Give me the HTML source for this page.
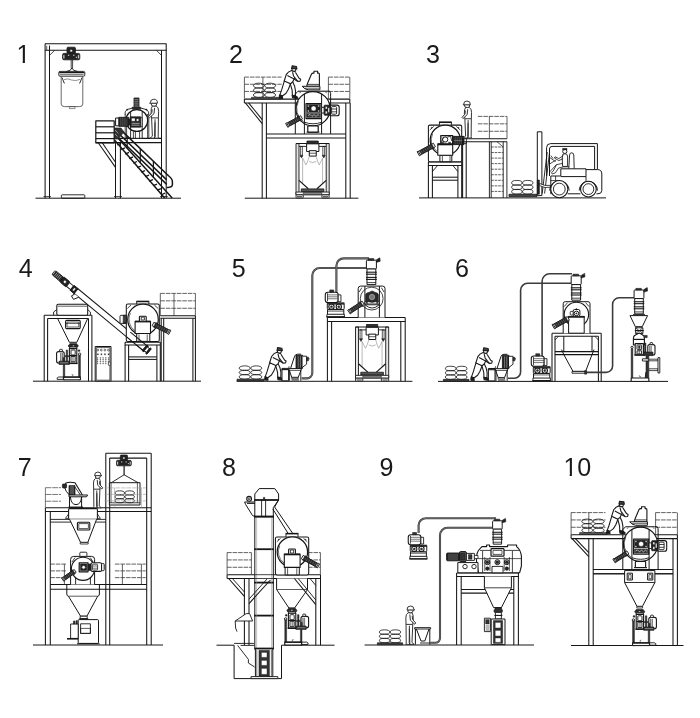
<!DOCTYPE html>
<html lang="en"><head><meta charset="utf-8"><title>Process layouts 1-10</title>
<style>html,body{margin:0;padding:0;background:#fff}body{width:700px;height:718px;overflow:hidden}svg{display:block}.n{font-family:"Liberation Sans",sans-serif;font-weight:400}svg{will-change:transform}</style>
</head><body>
<svg width="700" height="718" viewBox="0 0 700 718" stroke-linecap="butt" stroke-linejoin="round">
<g id="d1">
<clipPath id="c1"><path d="M15.40,43.12 H24.91 V64.20 H22.71 V60.69 H15.40 Z"/></clipPath>
<text class="n" x="16.40" y="63.20" font-size="25.1" fill="#1a1a1a" clip-path="url(#c1)">1</text>
<line x1="35.50" y1="198.20" x2="181.00" y2="198.20" fill="none" stroke="#161616" stroke-width="1"/>
<line x1="45.00" y1="43.70" x2="166.40" y2="43.70" fill="none" stroke="#161616" stroke-width="1.05"/>
<line x1="45.00" y1="50.30" x2="166.40" y2="50.30" fill="none" stroke="#161616" stroke-width="1.05"/>
<line x1="45.10" y1="43.70" x2="45.10" y2="198.20" fill="none" stroke="#161616" stroke-width="1.05"/>
<line x1="49.50" y1="45.60" x2="49.50" y2="198.20" fill="none" stroke="#161616" stroke-width="1.05"/>
<line x1="161.50" y1="50.30" x2="161.50" y2="198.20" fill="none" stroke="#161616" stroke-width="1.05"/>
<line x1="166.20" y1="43.70" x2="166.20" y2="198.20" fill="none" stroke="#161616" stroke-width="1.05"/>
<line x1="46.70" y1="45.80" x2="46.70" y2="50.30" fill="none" stroke="#161616" stroke-width="0.7"/>
<path d="M49.50,55.40 L54.60,50.30" fill="none" stroke="#161616" stroke-width="0.8"/>
<path d="M161.50,55.40 L156.40,50.30" fill="none" stroke="#161616" stroke-width="0.8"/>
<line x1="43.50" y1="196.60" x2="51.00" y2="196.60" fill="none" stroke="#161616" stroke-width="0.8"/>
<line x1="160.00" y1="196.60" x2="167.80" y2="196.60" fill="none" stroke="#161616" stroke-width="0.8"/>
<rect x="61.40" y="194.80" width="23.40" height="3.40" rx="0.8" fill="none" stroke="#161616" stroke-width="0.9"/>
<g transform="translate(71.20,47.20) scale(1)">
<rect x="-4.20" y="0.00" width="8.40" height="6.40" rx="1" fill="#222" stroke="#161616" stroke-width="0.8"/>
<rect x="-8.60" y="6.20" width="17.20" height="6.40" rx="1.4" fill="#222" stroke="#161616" stroke-width="0.8"/>
<rect x="-8.00" y="7.60" width="1.40" height="3.80" fill="#fff" stroke="#161616" stroke-width="0.4"/>
<rect x="6.60" y="7.60" width="1.40" height="3.80" fill="#fff" stroke="#161616" stroke-width="0.4"/>
<circle cx="0.00" cy="3.60" r="1.30" fill="#fff" stroke="#161616" stroke-width="0.5"/>
<circle cx="-2.60" cy="8.00" r="0.80" fill="#fff" stroke="#161616" stroke-width="0.3"/>
<circle cx="2.60" cy="8.00" r="0.80" fill="#fff" stroke="#161616" stroke-width="0.3"/>
<circle cx="5.20" cy="10.00" r="0.80" fill="#fff" stroke="#161616" stroke-width="0.3"/>
</g>
<path d="M71.2,59.8 L71.2,68.5 M72.6,59.8 L72.6,68.5" fill="none" stroke="#161616" stroke-width="0.8"/>
<path d="M71.9,68 Q71,71 66.5,71.4 M71.9,68 Q72.8,71 77.5,71.4" fill="none" stroke="#161616" stroke-width="0.9"/>
<rect x="58.80" y="71.40" width="26.00" height="4.80" rx="1.2" fill="none" stroke="#161616" stroke-width="0.9"/>
<line x1="59.20" y1="72.60" x2="84.40" y2="72.60" fill="none" stroke="#161616" stroke-width="1.3"/>
<line x1="60.00" y1="74.60" x2="83.60" y2="74.60" fill="none" stroke="#161616" stroke-width="0.6"/>
<path d="M61.2,76.4 L61.2,104 Q61.4,106.6 64.5,106.6 L79.5,106.6 Q82.8,106.6 82.8,104 L82.8,76.4" fill="none" stroke="#444" stroke-width="0.8"/>
<path d="M62,77.5 L64.4,83.5 M82,77.5 L79.6,83.5" fill="none" stroke="#161616" stroke-width="0.9"/>
<path d="M64,79.6 Q68,78 71.5,80 Q75.5,81.4 80,79.4" fill="none" stroke="#444" stroke-width="0.6"/>
<rect x="69.40" y="106.60" width="5.60" height="2.00" fill="none" stroke="#444" stroke-width="0.6"/>
<rect x="95.80" y="120.90" width="18.40" height="21.90" fill="none" stroke="#161616" stroke-width="1.2"/>
<line x1="95.80" y1="126.80" x2="114.20" y2="126.80" fill="none" stroke="#161616" stroke-width="1.2"/>
<line x1="95.80" y1="132.80" x2="114.20" y2="132.80" fill="none" stroke="#161616" stroke-width="1.2"/>
<line x1="95.80" y1="138.60" x2="114.20" y2="138.60" fill="none" stroke="#161616" stroke-width="1.2"/>
<line x1="114.00" y1="138.40" x2="161.50" y2="138.40" fill="none" stroke="#161616" stroke-width="1.1"/>
<line x1="95.80" y1="142.60" x2="161.50" y2="142.60" fill="none" stroke="#161616" stroke-width="1.1"/>
<line x1="115.50" y1="143.00" x2="115.50" y2="198.20" fill="none" stroke="#161616" stroke-width="1.05"/>
<line x1="120.40" y1="143.00" x2="120.40" y2="198.20" fill="none" stroke="#161616" stroke-width="1.05"/>
<line x1="114.00" y1="196.60" x2="122.00" y2="196.60" fill="none" stroke="#161616" stroke-width="0.8"/>
<path d="M98.40,143.00 L115.50,167.40" fill="none" stroke="#161616" stroke-width="1.05"/>
<path d="M102.40,143.00 L115.50,162.20" fill="none" stroke="#161616" stroke-width="1.05"/>
<path d="M125.2,114 L125.2,138.3 M126.6,118 L126.6,138.3 M147.6,114 L147.6,138.3 M148.8,114 L148.8,138.3" fill="none" stroke="#161616" stroke-width="0.8"/>
<rect x="130.60" y="130.40" width="11.60" height="7.90" fill="#fff" stroke="#161616" stroke-width="0.9"/>
<line x1="133.40" y1="131.40" x2="133.40" y2="138.30" fill="none" stroke="#161616" stroke-width="0.8"/>
<line x1="135.40" y1="131.40" x2="135.40" y2="138.30" fill="none" stroke="#161616" stroke-width="0.8"/>
<line x1="139.60" y1="131.40" x2="139.60" y2="138.30" fill="none" stroke="#161616" stroke-width="0.8"/>
<circle cx="136.80" cy="120.50" r="10.90" fill="#fff" stroke="#161616" stroke-width="1.2"/>
<path d="M130.6,111.6 L130.6,130 M142.2,111.6 L142.2,130" fill="none" stroke="#161616" stroke-width="0.9"/>
<path d="M125.2,114.6 Q124.4,110.6 128.4,109.2 L132,108.2 L141.4,108.2 L145,109.2 Q149.4,110.6 148.6,114.6" fill="none" stroke="#161616" stroke-width="0.9"/>
<circle cx="127.20" cy="109.60" r="0.70" fill="#222" stroke="#161616" stroke-width="0.4"/>
<circle cx="146.40" cy="109.60" r="0.70" fill="#222" stroke="#161616" stroke-width="0.4"/>
<rect x="134.00" y="98.00" width="5.00" height="9.40" fill="#333" stroke="#161616" stroke-width="0.8"/>
<line x1="134.40" y1="99.60" x2="138.60" y2="99.60" fill="none" stroke="#bbb" stroke-width="0.5"/>
<line x1="134.40" y1="101.40" x2="138.60" y2="101.40" fill="none" stroke="#bbb" stroke-width="0.5"/>
<line x1="134.40" y1="103.20" x2="138.60" y2="103.20" fill="none" stroke="#bbb" stroke-width="0.5"/>
<line x1="134.40" y1="105.00" x2="138.60" y2="105.00" fill="none" stroke="#bbb" stroke-width="0.5"/>
<line x1="134.40" y1="106.60" x2="138.60" y2="106.60" fill="none" stroke="#bbb" stroke-width="0.5"/>
<rect x="132.20" y="107.20" width="8.60" height="2.00" fill="#333" stroke="#161616" stroke-width="0.6"/>
<rect x="130.20" y="116.90" width="10.60" height="10.20" fill="#2a2a2a" stroke="#161616" stroke-width="0.9"/>
<rect x="131.60" y="118.20" width="3.40" height="3.00" fill="#fff" stroke="#161616" stroke-width="0.3"/>
<circle cx="137.60" cy="120.00" r="1.30" fill="#fff" stroke="#161616" stroke-width="0.3"/>
<path d="M131.6,123.4 L139.6,123.4 M131.6,125.2 L139.6,125.2" fill="none" stroke="#ddd" stroke-width="0.6"/>
<rect x="140.80" y="117.60" width="1.40" height="8.80" fill="#fff" stroke="#161616" stroke-width="0.7"/>
<rect x="118.80" y="117.30" width="9.80" height="9.00" fill="#2a2a2a" stroke="#161616" stroke-width="0.9"/>
<line x1="120.60" y1="117.80" x2="120.60" y2="125.80" fill="none" stroke="#777" stroke-width="0.4"/>
<line x1="122.40" y1="117.80" x2="122.40" y2="125.80" fill="none" stroke="#777" stroke-width="0.4"/>
<line x1="124.20" y1="117.80" x2="124.20" y2="125.80" fill="none" stroke="#777" stroke-width="0.4"/>
<line x1="126.00" y1="117.80" x2="126.00" y2="125.80" fill="none" stroke="#777" stroke-width="0.4"/>
<rect x="115.60" y="118.00" width="3.20" height="7.80" fill="#fff" stroke="#161616" stroke-width="1"/>
<rect x="128.60" y="119.00" width="1.60" height="6.00" fill="#222" stroke="#161616" stroke-width="0.5"/>
<g transform="translate(154.80,138.40) scale(-1.005,1.005)">
<path d="M-3.6,-20.6 L-3.4,-1.6 L-3.7,-0.2 L0.6,-0.2 L-0.4,-1.8 L-0.2,-19 M-0.2,-16 L0.2,-2 L0,-0.2 L4.7,-0.2 L2.4,-2.2 L3.2,-20.6" fill="#fff" stroke="#2a2a2a" stroke-width="0.945153"/>
<path d="M-1.4,-32.2 Q-3.9,-31 -3.8,-27 L-3.6,-20.4 L3.2,-20.4 L3.7,-26 Q3.9,-30.4 2.4,-32.2 Z" fill="#fff" stroke="#2a2a2a" stroke-width="0.945153"/>
<path d="M0.2,-30.4 L0.8,-24.6 L5.2,-20.6 L6.2,-21.8 L3,-25.4 L2.6,-29" fill="#fff" stroke="#2a2a2a" stroke-width="0.945153"/>
<path d="M-1.8,-35.2 L-1.6,-32.8 Q0.6,-31.4 3,-32.6 L3.8,-35.2 Z" fill="#fff" stroke="#2a2a2a" stroke-width="0.945153"/>
<path d="M-2.6,-35 Q-2.8,-39 1,-39 Q4.3,-39 4.4,-35.6 L5.2,-35 Z" fill="#fff" stroke="#2a2a2a" stroke-width="0.945153"/>
</g>
<line x1="117.00" y1="137.00" x2="172.20" y2="198.10" fill="none" stroke="#161616" stroke-width="1.5"/>
<line x1="114.50" y1="140.00" x2="164.60" y2="198.10" fill="none" stroke="#161616" stroke-width="1.5"/>
<line x1="117.20" y1="145.01" x2="121.00" y2="143.41" fill="none" stroke="#161616" stroke-width="1.3"/>
<line x1="121.20" y1="149.53" x2="125.00" y2="147.93" fill="none" stroke="#161616" stroke-width="1.3"/>
<line x1="125.20" y1="154.05" x2="129.00" y2="152.45" fill="none" stroke="#161616" stroke-width="1.3"/>
<line x1="129.20" y1="158.57" x2="133.00" y2="156.97" fill="none" stroke="#161616" stroke-width="1.3"/>
<line x1="133.20" y1="163.09" x2="137.00" y2="161.49" fill="none" stroke="#161616" stroke-width="1.3"/>
<line x1="137.20" y1="167.61" x2="141.00" y2="166.01" fill="none" stroke="#161616" stroke-width="1.3"/>
<line x1="141.20" y1="172.13" x2="145.00" y2="170.53" fill="none" stroke="#161616" stroke-width="1.3"/>
<line x1="145.20" y1="176.65" x2="149.00" y2="175.05" fill="none" stroke="#161616" stroke-width="1.3"/>
<line x1="149.20" y1="181.17" x2="153.00" y2="179.57" fill="none" stroke="#161616" stroke-width="1.3"/>
<line x1="153.20" y1="185.69" x2="157.00" y2="184.09" fill="none" stroke="#161616" stroke-width="1.3"/>
<line x1="157.20" y1="190.21" x2="161.00" y2="188.61" fill="none" stroke="#161616" stroke-width="1.3"/>
<line x1="161.20" y1="194.73" x2="165.00" y2="193.13" fill="none" stroke="#161616" stroke-width="1.3"/>
<line x1="122.40" y1="131.40" x2="167.90" y2="175.30" fill="none" stroke="#161616" stroke-width="1.5"/>
<line x1="119.40" y1="134.20" x2="166.70" y2="179.90" fill="none" stroke="#161616" stroke-width="1.5"/>
<line x1="116.80" y1="136.20" x2="166.70" y2="184.40" fill="none" stroke="#161616" stroke-width="1.5"/>
<path d="M167.6,175 Q172.6,178.6 172.4,182 L172.4,184.6 Q172.4,187.4 168,187.4 L166.7,187.4" fill="none" stroke="#161616" stroke-width="1.5"/>
<line x1="127.20" y1="136.03" x2="127.20" y2="148.29" fill="none" stroke="#161616" stroke-width="1.2"/>
<line x1="140.30" y1="148.67" x2="140.30" y2="162.79" fill="none" stroke="#161616" stroke-width="1.2"/>
<line x1="153.40" y1="161.31" x2="153.40" y2="177.29" fill="none" stroke="#161616" stroke-width="1.2"/>
<path d="M114.4,128 L121,128 L124,132 L118,139 L114.4,139 Z" fill="#333" stroke="#161616" stroke-width="0.6"/>
<path d="M115,130 L118.4,133.4 M115,134 L117.4,136.4" fill="none" stroke="#ddd" stroke-width="0.6"/>
</g>
<g id="d2">
<text class="n" x="229.10" y="63.20" font-size="25.1" fill="#1a1a1a">2</text>
<line x1="244.80" y1="198.20" x2="358.40" y2="198.20" fill="none" stroke="#161616" stroke-width="1"/>
<line x1="244.40" y1="77.10" x2="281.60" y2="77.10" fill="none" stroke="#3a3a3a" stroke-width="0.8" stroke-dasharray="4.6 0.9"/>
<line x1="244.40" y1="84.27" x2="281.60" y2="84.27" fill="none" stroke="#3a3a3a" stroke-width="0.8" stroke-dasharray="4.6 0.9"/>
<line x1="244.40" y1="91.43" x2="281.60" y2="91.43" fill="none" stroke="#3a3a3a" stroke-width="0.8" stroke-dasharray="4.6 0.9"/>
<line x1="244.40" y1="77.10" x2="244.40" y2="98.60" fill="none" stroke="#3a3a3a" stroke-width="0.8"/>
<line x1="262.90" y1="77.10" x2="262.90" y2="98.60" fill="none" stroke="#3a3a3a" stroke-width="0.8"/>
<line x1="328.40" y1="77.10" x2="349.80" y2="77.10" fill="none" stroke="#3a3a3a" stroke-width="0.8" stroke-dasharray="4.6 0.9"/>
<line x1="328.40" y1="84.27" x2="349.80" y2="84.27" fill="none" stroke="#3a3a3a" stroke-width="0.8" stroke-dasharray="4.6 0.9"/>
<line x1="328.40" y1="91.43" x2="349.80" y2="91.43" fill="none" stroke="#3a3a3a" stroke-width="0.8" stroke-dasharray="4.6 0.9"/>
<line x1="328.40" y1="77.10" x2="328.40" y2="98.60" fill="none" stroke="#3a3a3a" stroke-width="0.8"/>
<line x1="349.80" y1="77.10" x2="349.80" y2="98.60" fill="none" stroke="#3a3a3a" stroke-width="0.8"/>
<line x1="244.40" y1="99.10" x2="349.80" y2="99.10" fill="none" stroke="#161616" stroke-width="1.05"/>
<line x1="244.40" y1="102.90" x2="349.80" y2="102.90" fill="none" stroke="#161616" stroke-width="1.05"/>
<line x1="244.40" y1="99.10" x2="244.40" y2="102.90" fill="none" stroke="#161616" stroke-width="1.05"/>
<line x1="349.80" y1="99.10" x2="349.80" y2="102.90" fill="none" stroke="#161616" stroke-width="1.05"/>
<path d="M245.40,102.90 L262.20,123.60" fill="none" stroke="#161616" stroke-width="1.05"/>
<path d="M248.60,102.90 L262.20,119.60" fill="none" stroke="#161616" stroke-width="1.05"/>
<line x1="262.20" y1="102.90" x2="262.20" y2="198.20" fill="none" stroke="#161616" stroke-width="1.05"/>
<line x1="266.40" y1="102.90" x2="266.40" y2="198.20" fill="none" stroke="#161616" stroke-width="1.05"/>
<line x1="345.80" y1="102.90" x2="345.80" y2="198.20" fill="none" stroke="#161616" stroke-width="1.05"/>
<line x1="350.20" y1="102.90" x2="350.20" y2="198.20" fill="none" stroke="#161616" stroke-width="1.05"/>
<line x1="266.40" y1="134.00" x2="345.80" y2="134.00" fill="none" stroke="#161616" stroke-width="1.05"/>
<line x1="266.40" y1="138.00" x2="345.80" y2="138.00" fill="none" stroke="#161616" stroke-width="1.05"/>
<ellipse cx="258.85" cy="85.63" rx="5.45" ry="2.48" fill="none" stroke="#161616" stroke-width="0.8"/>
<ellipse cx="258.85" cy="90.30" rx="5.45" ry="2.48" fill="none" stroke="#161616" stroke-width="0.8"/>
<ellipse cx="258.85" cy="94.97" rx="5.45" ry="2.48" fill="none" stroke="#161616" stroke-width="0.8"/>
<ellipse cx="270.15" cy="85.63" rx="5.45" ry="2.48" fill="none" stroke="#161616" stroke-width="0.8"/>
<ellipse cx="270.15" cy="90.30" rx="5.45" ry="2.48" fill="none" stroke="#161616" stroke-width="0.8"/>
<ellipse cx="270.15" cy="94.97" rx="5.45" ry="2.48" fill="none" stroke="#161616" stroke-width="0.8"/>
<rect x="251.40" y="97.30" width="30.60" height="1.70" fill="#555" stroke="#161616" stroke-width="0.6"/>
<g transform="translate(289.00,98.80) scale(0.991,0.991)">
<path d="M-4.6,-18.4 L-7.4,-9 L-9.2,-4 L-7,-2.6 L-3,-5.6 L-0.6,-9.6 L1.6,-15.4 Z" fill="#fff" stroke="#1c1c1c" stroke-width="1.11"/>
<path d="M-9.6,-3.8 L-7,-3.2 L-6.4,-0.4 L-9.8,-0.6 Z" fill="#1c1c1c" stroke="#1c1c1c" stroke-width="1.11"/>
<path d="M1.2,-15.6 L3.2,-8.4 L3.4,-3.4 L6.4,-2.8 L6.6,-8 L5.6,-13 L3.6,-17.4 Z" fill="#fff" stroke="#1c1c1c" stroke-width="1.11"/>
<path d="M3.2,-3.6 L6.4,-3 L8.8,-1.4 L8.4,-0.4 L3.6,-1 Z" fill="#1c1c1c" stroke="#1c1c1c" stroke-width="1.11"/>
<path d="M2.4,-28.6 Q-1,-27.6 -2.8,-24.4 L-4.8,-18 L1.6,-15.2 L3.8,-17.2 L5.6,-21 L6.2,-27.4 Z" fill="#fff" stroke="#1c1c1c" stroke-width="1.11"/>
<path d="M3.6,-27 L4.6,-23 L8.8,-17.6 L11.2,-17.8 L11.8,-19.8 L10.2,-20.8 L6.6,-26.6" fill="#fff" stroke="#1c1c1c" stroke-width="1.11"/>
<path d="M-1.6,-23.4 L4.6,-20.2 L8.6,-17.8" fill="none" stroke="#1c1c1c" stroke-width="1.11"/>
<path d="M3,-30.6 L3.2,-28.4 Q5,-27.4 6.6,-28.2 L7.2,-30.6 Z" fill="#fff" stroke="#1c1c1c" stroke-width="1.11"/>
<path d="M2.6,-30.6 L3.2,-33.3 L7.6,-32.6 L8,-30.2 Z" fill="#444" stroke="#1c1c1c" stroke-width="1.11"/>
</g>
<g transform="translate(313.00,108.80)">
<path d="M-17.7,-6 L-17.7,25.1 M17.6,-12 L17.6,25.1" fill="none" stroke="#161616" stroke-width="1"/>
<rect x="-5.10" y="17.20" width="10.20" height="6.00" fill="#fff" stroke="#161616" stroke-width="1"/>
<line x1="-6.40" y1="23.30" x2="6.40" y2="23.30" fill="none" stroke="#161616" stroke-width="1.2"/>
<circle cx="0.00" cy="0.00" r="17.15" fill="#fff" stroke="#161616" stroke-width="1.2"/>
<path d="M-14.6,-7.6 A16,16 0 0 0 -9.4,13" fill="none" stroke="#161616" stroke-width="0.7"/>
<line x1="-15.00" y1="-17.60" x2="16.60" y2="-17.60" fill="none" stroke="#161616" stroke-width="1.1"/>
<path d="M-15,-17.6 L-17.7,-14.6 L-17.7,-6 M16.6,-17.6 L17.6,-15.6 L17.6,-12" fill="none" stroke="#161616" stroke-width="1"/>
<path d="M-13.4,-15.6 L-12.4,-16.8 M13.6,-15.6 L12.6,-16.8" fill="none" stroke="#161616" stroke-width="0.8"/>
<path d="M-8.6,-14.8 L-8.6,25.1 M8.6,-14.8 L8.6,25.1" fill="none" stroke="#161616" stroke-width="1"/>
<path d="M-8.6,13.4 Q0,16.6 8.6,13.4" fill="none" stroke="#161616" stroke-width="0.9"/>
<rect x="-5.10" y="17.20" width="10.20" height="6.00" fill="#fff" stroke="#161616" stroke-width="1"/>
<rect x="-7.00" y="-5.20" width="15.20" height="15.00" fill="#fff" stroke="#161616" stroke-width="1.2"/>
<rect x="-6.00" y="-4.20" width="13.20" height="7.80" fill="#222" stroke="#161616" stroke-width="0.5"/>
<circle cx="0.60" cy="-0.40" r="2.50" fill="#fff" stroke="#161616" stroke-width="0.4"/>
<rect x="-5.30" y="-3.50" width="1.40" height="1.40" fill="#fff" stroke="#161616" stroke-width="0.2"/>
<rect x="4.90" y="-3.50" width="1.40" height="1.40" fill="#fff" stroke="#161616" stroke-width="0.2"/>
<rect x="-5.30" y="1.50" width="1.40" height="1.40" fill="#fff" stroke="#161616" stroke-width="0.2"/>
<rect x="4.90" y="1.50" width="1.40" height="1.40" fill="#fff" stroke="#161616" stroke-width="0.2"/>
<rect x="-6.00" y="4.80" width="13.20" height="3.80" fill="#333" stroke="#161616" stroke-width="0.5"/>
<path d="M-5,6.8 L-3,5.6 L-1,7.6 L1,5.8 L3,7.6 L5,5.8 L6.4,7" fill="none" stroke="#fff" stroke-width="0.6"/>
<rect x="11.10" y="-3.60" width="6.50" height="10.00" rx="0.8" fill="#222" stroke="#161616" stroke-width="0.8"/>
<rect x="12.40" y="-2.20" width="1.80" height="2.40" fill="#fff" stroke="#161616" stroke-width="0.3"/>
<rect x="12.40" y="2.40" width="1.80" height="2.60" fill="#fff" stroke="#161616" stroke-width="0.3"/>
<rect x="15.00" y="-1.00" width="1.40" height="4.60" fill="#fff" stroke="#161616" stroke-width="0.3"/>
<rect x="8.60" y="-1.40" width="2.50" height="5.60" fill="#fff" stroke="#161616" stroke-width="0.9"/>
<path d="M17.6,-3.7 L24,-3.7 Q26.2,-3.7 26.2,-1.4 L26.2,4.6 Q26.2,6.9 24,6.9 L17.6,6.9 Z" fill="#fff" stroke="#161616" stroke-width="1.1"/>
<rect x="18.60" y="-2.20" width="5.00" height="7.60" rx="1" fill="#fff" stroke="#161616" stroke-width="0.9"/>
<line x1="18.60" y1="0.20" x2="23.60" y2="0.20" fill="none" stroke="#161616" stroke-width="0.8"/>
<line x1="18.60" y1="3.00" x2="23.60" y2="3.00" fill="none" stroke="#161616" stroke-width="0.8"/>
<path d="M-6.3,-22.6 L-5.4,-25.6 L-1.6,-34.6 Q-1,-35.7 0.2,-35.7 L1,-35.7 L1,-37.6 L4.6,-37.6 L4.6,-35.7 L5.6,-35.7 Q6.4,-35.7 6.4,-34.6 L6.4,-22.6 Z" fill="#fff" stroke="#161616" stroke-width="1.1"/>
<line x1="-5.60" y1="-24.40" x2="6.40" y2="-24.40" fill="none" stroke="#161616" stroke-width="0.8"/>
<path d="M-10.8,-22.5 L6.9,-22.5 L6.9,-19 L-5,-19 Q-8.6,-19.6 -10.8,-22.5 Z" fill="#fff" stroke="#161616" stroke-width="1"/>
<line x1="-8.60" y1="-20.60" x2="6.90" y2="-20.60" fill="none" stroke="#161616" stroke-width="0.7"/>
</g>
<path d="M287.88,126.83 L302.48,118.93 L300.72,115.67 L286.12,123.57 Z" fill="#fff" stroke="#161616" stroke-width="0.9"/>
<path d="M289.63,125.88 L299.27,120.67 L297.51,117.41 L287.87,122.62 Z" fill="#2a2a2a" stroke="#161616" stroke-width="0.6"/>
<line x1="290.56" y1="124.81" x2="289.28" y2="122.43" fill="none" stroke="#aaa" stroke-width="0.35"/>
<line x1="292.39" y1="123.82" x2="291.10" y2="121.45" fill="none" stroke="#aaa" stroke-width="0.35"/>
<line x1="294.21" y1="122.83" x2="292.93" y2="120.46" fill="none" stroke="#aaa" stroke-width="0.35"/>
<line x1="296.04" y1="121.84" x2="294.75" y2="119.47" fill="none" stroke="#aaa" stroke-width="0.35"/>
<line x1="297.86" y1="120.86" x2="296.58" y2="118.48" fill="none" stroke="#aaa" stroke-width="0.35"/>
<path d="M299.89,121.12 L301.35,120.33 L298.93,115.85 L297.47,116.64 Z" fill="#2a2a2a" stroke="#161616" stroke-width="0.5"/>
<path d="M287.78,127.34 L288.80,126.78 L286.66,122.83 L285.64,123.38 Z" fill="#fff" stroke="#161616" stroke-width="0.9"/>
<rect x="296.00" y="143.56" width="2.99" height="51.32" fill="#e4e4e4" stroke="#161616" stroke-width="0.9"/>
<rect x="326.21" y="143.56" width="2.99" height="51.32" fill="#e4e4e4" stroke="#161616" stroke-width="0.9"/>
<line x1="296.00" y1="143.56" x2="329.20" y2="143.56" fill="none" stroke="#161616" stroke-width="1.1"/>
<line x1="298.99" y1="146.41" x2="326.21" y2="146.41" fill="none" stroke="#161616" stroke-width="0.9"/>
<rect x="306.96" y="141.00" width="11.29" height="2.28" fill="#333" stroke="#161616" stroke-width="0.8"/>
<rect x="306.62" y="143.84" width="12.28" height="7.68" fill="#fff" stroke="#161616" stroke-width="1"/>
<rect x="309.28" y="150.67" width="6.97" height="5.41" fill="#fff" stroke="#161616" stroke-width="1"/>
<line x1="309.28" y1="153.23" x2="316.25" y2="153.23" fill="none" stroke="#161616" stroke-width="0.7"/>
<rect x="300.58" y="146.41" width="1.80" height="9.96" fill="none" stroke="#161616" stroke-width="0.7"/>
<path d="M300.08,155.22 L302.88,155.22 L301.48,158.07 Z" fill="#333" stroke="#161616" stroke-width="0.5"/>
<rect x="322.82" y="146.41" width="1.80" height="9.96" fill="none" stroke="#161616" stroke-width="0.7"/>
<path d="M322.32,155.22 L325.12,155.22 L323.72,158.07 Z" fill="#333" stroke="#161616" stroke-width="0.5"/>
<path d="M302.64,158.07 L302.64,183.11 M322.56,158.07 L322.56,183.11" fill="none" stroke="#8a8a8a" stroke-width="0.6"/>
<path d="M302.64,158.07 L305.96,164.90 Q307.95,161.48 309.28,156.36" fill="none" stroke="#8a8a8a" stroke-width="0.6"/>
<path d="M322.56,158.07 L319.24,164.90 Q317.25,161.48 316.25,156.36" fill="none" stroke="#8a8a8a" stroke-width="0.6"/>
<path d="M309.28,161.48 Q312.60,163.76 316.25,161.48" fill="none" stroke="#8a8a8a" stroke-width="0.6"/>
<path d="M298.99,180.37 L308.28,188.80" fill="none" stroke="#161616" stroke-width="1.2"/>
<path d="M326.21,180.37 L316.92,188.80" fill="none" stroke="#161616" stroke-width="1.2"/>
<rect x="301.31" y="188.91" width="22.58" height="2.84" fill="#555" stroke="#161616" stroke-width="0.8"/>
<rect x="296.00" y="192.04" width="33.20" height="2.84" fill="#fff" stroke="#161616" stroke-width="0.9"/>
<rect x="303.30" y="192.49" width="18.59" height="1.99" fill="#888" stroke="#161616" stroke-width="0.5"/>
<rect x="296.00" y="194.88" width="7.30" height="3.02" rx="0.8" fill="#fff" stroke="#161616" stroke-width="0.9"/>
<rect x="321.90" y="194.88" width="7.30" height="3.02" rx="0.8" fill="#fff" stroke="#161616" stroke-width="0.9"/>
<line x1="297.00" y1="196.65" x2="302.31" y2="196.65" fill="none" stroke="#161616" stroke-width="0.8"/>
<line x1="322.89" y1="196.65" x2="328.20" y2="196.65" fill="none" stroke="#161616" stroke-width="0.8"/>
</g>
<g id="d3">
<text class="n" x="426.00" y="63.20" font-size="25.1" fill="#1a1a1a">3</text>
<line x1="419.00" y1="197.90" x2="606.00" y2="197.90" fill="none" stroke="#161616" stroke-width="1"/>
<rect x="428.40" y="161.90" width="33.30" height="3.70" fill="#fff" stroke="#161616" stroke-width="1.05"/>
<line x1="428.40" y1="165.60" x2="428.40" y2="197.90" fill="none" stroke="#161616" stroke-width="1.05"/>
<line x1="432.40" y1="165.60" x2="432.40" y2="197.90" fill="none" stroke="#161616" stroke-width="1.05"/>
<line x1="457.90" y1="165.60" x2="457.90" y2="197.90" fill="none" stroke="#161616" stroke-width="1.05"/>
<line x1="461.70" y1="165.60" x2="461.70" y2="197.90" fill="none" stroke="#161616" stroke-width="1.05"/>
<line x1="432.60" y1="177.20" x2="457.90" y2="177.20" fill="none" stroke="#161616" stroke-width="1.05"/>
<line x1="432.60" y1="180.20" x2="457.90" y2="180.20" fill="none" stroke="#161616" stroke-width="1.05"/>
<path d="M432.40,171.60 L437.50,165.60" fill="none" stroke="#161616" stroke-width="0.9"/>
<path d="M457.90,171.60 L453.00,165.60" fill="none" stroke="#161616" stroke-width="0.9"/>
<rect x="428.40" y="125.10" width="33.30" height="36.60" rx="1.5" fill="#fff" stroke="#161616" stroke-width="1.05"/>
<path d="M429.80,130.00 L433.80,126.40" fill="none" stroke="#161616" stroke-width="0.8"/>
<path d="M460.30,130.00 L456.30,126.40" fill="none" stroke="#161616" stroke-width="0.8"/>
<circle cx="431.60" cy="127.80" r="0.50" fill="#222" stroke="#161616" stroke-width="0.3"/>
<circle cx="458.60" cy="127.80" r="0.50" fill="#222" stroke="#161616" stroke-width="0.3"/>
<rect x="439.40" y="122.20" width="12.00" height="2.90" fill="#fff" stroke="#161616" stroke-width="0.9"/>
<line x1="439.00" y1="122.30" x2="451.80" y2="122.30" fill="none" stroke="#161616" stroke-width="1.5"/>
<circle cx="445.30" cy="140.20" r="15.10" fill="#fff" stroke="#161616" stroke-width="1.2"/>
<path d="M432.6,134 A14,14 0 0 0 436.6,151" fill="none" stroke="#161616" stroke-width="0.6"/>
<rect x="439.90" y="155.30" width="11.90" height="6.40" fill="#fff" stroke="#161616" stroke-width="1"/>
<line x1="442.40" y1="156.00" x2="442.40" y2="161.70" fill="none" stroke="#161616" stroke-width="0.7"/>
<line x1="450.00" y1="156.00" x2="450.00" y2="161.70" fill="none" stroke="#161616" stroke-width="0.7"/>
<rect x="437.80" y="143.80" width="14.90" height="11.50" fill="#fff" stroke="#161616" stroke-width="1.1"/>
<line x1="437.80" y1="144.40" x2="452.70" y2="144.40" fill="none" stroke="#161616" stroke-width="1.8"/>
<rect x="440.80" y="135.70" width="11.90" height="8.10" fill="#fff" stroke="#161616" stroke-width="1.3"/>
<circle cx="445.20" cy="139.50" r="2.60" fill="none" stroke="#161616" stroke-width="1"/>
<path d="M441.4,142.6 L443.4,137 M447.4,137 L450.6,136.4 L451.8,141" fill="none" stroke="#161616" stroke-width="0.8"/>
<rect x="441.60" y="142.20" width="2.00" height="1.60" fill="#333" stroke="#161616" stroke-width="0.4"/>
<rect x="448.60" y="142.20" width="2.00" height="1.60" fill="#333" stroke="#161616" stroke-width="0.4"/>
<rect x="453.20" y="136.40" width="10.80" height="8.20" fill="#222" stroke="#161616" stroke-width="0.9"/>
<line x1="455.20" y1="137.00" x2="455.20" y2="144.00" fill="none" stroke="#888" stroke-width="0.4"/>
<line x1="457.20" y1="137.00" x2="457.20" y2="144.00" fill="none" stroke="#888" stroke-width="0.4"/>
<line x1="459.20" y1="137.00" x2="459.20" y2="144.00" fill="none" stroke="#888" stroke-width="0.4"/>
<line x1="461.20" y1="137.00" x2="461.20" y2="144.00" fill="none" stroke="#888" stroke-width="0.4"/>
<line x1="454.00" y1="140.50" x2="463.40" y2="140.50" fill="none" stroke="#aaa" stroke-width="0.5"/>
<rect x="464.00" y="137.40" width="2.40" height="6.20" fill="#fff" stroke="#161616" stroke-width="0.8"/>
<path d="M419.56,155.36 L435.36,146.76 L433.44,143.24 L417.64,151.84 Z" fill="#fff" stroke="#161616" stroke-width="0.9"/>
<path d="M421.45,154.32 L431.88,148.65 L429.97,145.14 L419.54,150.81 Z" fill="#2a2a2a" stroke="#161616" stroke-width="0.6"/>
<line x1="422.48" y1="153.20" x2="421.04" y2="150.56" fill="none" stroke="#aaa" stroke-width="0.35"/>
<line x1="424.45" y1="152.12" x2="423.02" y2="149.49" fill="none" stroke="#aaa" stroke-width="0.35"/>
<line x1="426.43" y1="151.05" x2="424.99" y2="148.41" fill="none" stroke="#aaa" stroke-width="0.35"/>
<line x1="428.40" y1="149.97" x2="426.97" y2="147.34" fill="none" stroke="#aaa" stroke-width="0.35"/>
<line x1="430.38" y1="148.90" x2="428.94" y2="146.26" fill="none" stroke="#aaa" stroke-width="0.35"/>
<path d="M432.53,149.09 L434.11,148.23 L431.53,143.49 L429.95,144.35 Z" fill="#2a2a2a" stroke="#161616" stroke-width="0.5"/>
<path d="M419.43,155.88 L420.54,155.28 L418.24,151.06 L417.14,151.66 Z" fill="#fff" stroke="#161616" stroke-width="0.9"/>
<line x1="462.60" y1="139.00" x2="462.60" y2="197.90" fill="none" stroke="#161616" stroke-width="1.05"/>
<line x1="466.20" y1="141.70" x2="466.20" y2="197.90" fill="none" stroke="#161616" stroke-width="1.05"/>
<line x1="462.60" y1="138.70" x2="507.00" y2="138.70" fill="none" stroke="#161616" stroke-width="1.05"/>
<line x1="462.60" y1="141.70" x2="507.00" y2="141.70" fill="none" stroke="#161616" stroke-width="1.05"/>
<line x1="489.40" y1="141.70" x2="489.40" y2="197.90" fill="none" stroke="#161616" stroke-width="0.9"/>
<line x1="491.20" y1="141.70" x2="491.20" y2="197.90" fill="none" stroke="#161616" stroke-width="0.9"/>
<line x1="503.20" y1="141.70" x2="503.20" y2="197.90" fill="none" stroke="#161616" stroke-width="0.9"/>
<line x1="506.90" y1="141.70" x2="506.90" y2="197.90" fill="none" stroke="#161616" stroke-width="0.9"/>
<line x1="491.20" y1="147.00" x2="503.20" y2="147.00" fill="none" stroke="#333" stroke-width="0.8" stroke-dasharray="2.6 0.9"/>
<line x1="491.20" y1="152.55" x2="503.20" y2="152.55" fill="none" stroke="#333" stroke-width="0.8" stroke-dasharray="2.6 0.9"/>
<line x1="491.20" y1="158.10" x2="503.20" y2="158.10" fill="none" stroke="#333" stroke-width="0.8" stroke-dasharray="2.6 0.9"/>
<line x1="491.20" y1="163.65" x2="503.20" y2="163.65" fill="none" stroke="#333" stroke-width="0.8" stroke-dasharray="2.6 0.9"/>
<line x1="491.20" y1="169.20" x2="503.20" y2="169.20" fill="none" stroke="#333" stroke-width="0.8" stroke-dasharray="2.6 0.9"/>
<line x1="491.20" y1="174.75" x2="503.20" y2="174.75" fill="none" stroke="#333" stroke-width="0.8" stroke-dasharray="2.6 0.9"/>
<line x1="491.20" y1="180.30" x2="503.20" y2="180.30" fill="none" stroke="#333" stroke-width="0.8" stroke-dasharray="2.6 0.9"/>
<line x1="491.20" y1="185.85" x2="503.20" y2="185.85" fill="none" stroke="#333" stroke-width="0.8" stroke-dasharray="2.6 0.9"/>
<line x1="491.20" y1="191.40" x2="503.20" y2="191.40" fill="none" stroke="#333" stroke-width="0.8" stroke-dasharray="2.6 0.9"/>
<path d="M497.00,141.70 L503.20,147.00" fill="none" stroke="#161616" stroke-width="0.7"/>
<line x1="477.80" y1="116.40" x2="507.00" y2="116.40" fill="none" stroke="#3a3a3a" stroke-width="0.8" stroke-dasharray="4.6 0.9"/>
<line x1="477.80" y1="123.83" x2="507.00" y2="123.83" fill="none" stroke="#3a3a3a" stroke-width="0.8" stroke-dasharray="4.6 0.9"/>
<line x1="477.80" y1="131.27" x2="507.00" y2="131.27" fill="none" stroke="#3a3a3a" stroke-width="0.8" stroke-dasharray="4.6 0.9"/>
<line x1="489.40" y1="116.40" x2="489.40" y2="138.70" fill="none" stroke="#3a3a3a" stroke-width="0.8"/>
<line x1="507.00" y1="116.40" x2="507.00" y2="138.70" fill="none" stroke="#3a3a3a" stroke-width="0.8"/>
<g transform="translate(467.90,138.20) scale(-0.954,0.954)">
<path d="M-3.6,-20.6 L-3.4,-1.6 L-3.7,-0.2 L0.6,-0.2 L-0.4,-1.8 L-0.2,-19 M-0.2,-16 L0.2,-2 L0,-0.2 L4.7,-0.2 L2.4,-2.2 L3.2,-20.6" fill="#fff" stroke="#2a2a2a" stroke-width="0.995968"/>
<path d="M-1.4,-32.2 Q-3.9,-31 -3.8,-27 L-3.6,-20.4 L3.2,-20.4 L3.7,-26 Q3.9,-30.4 2.4,-32.2 Z" fill="#fff" stroke="#2a2a2a" stroke-width="0.995968"/>
<path d="M0.2,-30.4 L0.8,-24.6 L5.2,-20.6 L6.2,-21.8 L3,-25.4 L2.6,-29" fill="#fff" stroke="#2a2a2a" stroke-width="0.995968"/>
<path d="M-1.8,-35.2 L-1.6,-32.8 Q0.6,-31.4 3,-32.6 L3.8,-35.2 Z" fill="#fff" stroke="#2a2a2a" stroke-width="0.995968"/>
<path d="M-2.6,-35 Q-2.8,-39 1,-39 Q4.3,-39 4.4,-35.6 L5.2,-35 Z" fill="#fff" stroke="#2a2a2a" stroke-width="0.995968"/>
</g>
<ellipse cx="516.85" cy="182.82" rx="5.25" ry="2.37" fill="none" stroke="#161616" stroke-width="0.8"/>
<ellipse cx="516.85" cy="187.25" rx="5.25" ry="2.37" fill="none" stroke="#161616" stroke-width="0.8"/>
<ellipse cx="516.85" cy="191.68" rx="5.25" ry="2.37" fill="none" stroke="#161616" stroke-width="0.8"/>
<ellipse cx="527.75" cy="182.82" rx="5.25" ry="2.37" fill="none" stroke="#161616" stroke-width="0.8"/>
<ellipse cx="527.75" cy="187.25" rx="5.25" ry="2.37" fill="none" stroke="#161616" stroke-width="0.8"/>
<ellipse cx="527.75" cy="191.68" rx="5.25" ry="2.37" fill="none" stroke="#161616" stroke-width="0.8"/>
<rect x="509.00" y="194.30" width="28.00" height="2.30" fill="#444" stroke="#161616" stroke-width="0.8"/>
<rect x="537.30" y="131.80" width="4.60" height="63.80" fill="#fff" stroke="#161616" stroke-width="1"/>
<rect x="537.30" y="180.00" width="2.10" height="14.20" fill="#222" stroke="#161616" stroke-width="0.6"/>
<path d="M542.20,193.50 L547.20,152.00" fill="none" stroke="#161616" stroke-width="0.9"/>
<path d="M544.60,193.50 L549.60,152.00" fill="none" stroke="#161616" stroke-width="0.9"/>
<path d="M539.5,183.4 Q545,186.4 549.8,185.4 L550.6,187.2 Q545,188.6 539.5,185.6 Z" fill="#fff" stroke="#161616" stroke-width="0.8"/>
<path d="M546.6,176 L546.6,147.6 Q546.6,143.6 550.6,143.6 L597.4,143.6 L597.4,169" fill="none" stroke="#161616" stroke-width="1"/>
<path d="M549.5,176 L549.5,149 Q549.5,146.4 552,146.4 L594.6,146.4 L594.6,169" fill="none" stroke="#161616" stroke-width="1"/>
<path d="M550.8,176 L550.8,193.8 L551.4,193.8 M550.8,176 L560.8,176 L560.8,168.8 L586,168.8 L586,176.6 L560.8,176.6" fill="none" stroke="#161616" stroke-width="1"/>
<path d="M586,169.6 L597.6,169.6 Q601.8,169.6 601.8,174 L601.8,190.5 Q601.8,193.8 598,193.8 L596.5,193.8" fill="none" stroke="#161616" stroke-width="1"/>
<line x1="586.00" y1="176.60" x2="586.00" y2="181.00" fill="none" stroke="#161616" stroke-width="0.9"/>
<line x1="567.80" y1="193.80" x2="580.40" y2="193.80" fill="none" stroke="#161616" stroke-width="1"/>
<path d="M555.6,176 L555.6,180.6 M550.8,180.6 L560,180.6" fill="none" stroke="#161616" stroke-width="0.8"/>
<path d="M549.6,190.6 A9.8,9.8 0 0 1 569.2,190.6" fill="none" stroke="#161616" stroke-width="0.9"/>
<path d="M579.2,190.6 A9.2,9.2 0 0 1 597.6,190.6" fill="none" stroke="#161616" stroke-width="0.9"/>
<circle cx="559.30" cy="189.10" r="8.60" fill="#fff" stroke="#161616" stroke-width="1.1"/>
<circle cx="559.30" cy="189.10" r="5.90" fill="none" stroke="#161616" stroke-width="0.9"/>
<circle cx="588.40" cy="189.10" r="7.90" fill="#fff" stroke="#161616" stroke-width="1.1"/>
<circle cx="588.40" cy="189.10" r="5.40" fill="none" stroke="#161616" stroke-width="0.9"/>
<path d="M568.8,168.6 L569.6,155 Q569.8,152.8 571.6,152.8 Q573.6,152.8 573.8,155 L574.2,168.6" fill="none" stroke="#161616" stroke-width="0.9"/>
<line x1="563.00" y1="166.80" x2="569.00" y2="166.80" fill="none" stroke="#161616" stroke-width="0.9"/>
<circle cx="564.80" cy="151.40" r="2.10" fill="none" stroke="#161616" stroke-width="0.9"/>
<rect x="562.60" y="148.40" width="4.40" height="1.40" fill="#222" stroke="#161616" stroke-width="0.5"/>
<path d="M563,154 L562.2,158 L562.6,166.4 L567.6,166.4 L567.6,156 Q567,153.6 565,153.8 Z" fill="#fff" stroke="#161616" stroke-width="0.9"/>
<path d="M563.2,155.6 L558.8,158.6 L555,156.8 L554.4,158 L558.8,160.6 L563,158.6" fill="none" stroke="#161616" stroke-width="0.8"/>
<path d="M562.6,163.4 L556.6,164.6 L553,171.4 L551.4,172.6 L552.4,174 L555.4,172.8 L558.6,168 L563,167" fill="none" stroke="#161616" stroke-width="0.8"/>
<path d="M549.6,157.4 L555.6,161.6 M550.8,155.6 L553,158.6 M549.6,164 L556,160" fill="none" stroke="#161616" stroke-width="0.8"/>
<path d="M549.6,172 L556.5,164.5" fill="none" stroke="#161616" stroke-width="0.8"/>
</g>
<g id="d4">
<text class="n" x="18.70" y="276.80" font-size="25.1" fill="#1a1a1a">4</text>
<line x1="33.00" y1="381.20" x2="201.00" y2="381.20" fill="none" stroke="#161616" stroke-width="1"/>
<line x1="160.30" y1="293.40" x2="195.40" y2="293.40" fill="none" stroke="#3a3a3a" stroke-width="0.8" stroke-dasharray="4.6 0.9"/>
<line x1="160.30" y1="300.83" x2="195.40" y2="300.83" fill="none" stroke="#3a3a3a" stroke-width="0.8" stroke-dasharray="4.6 0.9"/>
<line x1="160.30" y1="308.27" x2="195.40" y2="308.27" fill="none" stroke="#3a3a3a" stroke-width="0.8" stroke-dasharray="4.6 0.9"/>
<line x1="160.30" y1="293.40" x2="160.30" y2="315.70" fill="none" stroke="#3a3a3a" stroke-width="0.8"/>
<line x1="174.00" y1="293.40" x2="174.00" y2="315.70" fill="none" stroke="#3a3a3a" stroke-width="0.8"/>
<line x1="195.40" y1="293.40" x2="195.40" y2="315.70" fill="none" stroke="#3a3a3a" stroke-width="0.8"/>
<line x1="160.30" y1="315.70" x2="195.40" y2="315.70" fill="none" stroke="#161616" stroke-width="1.05"/>
<line x1="160.30" y1="318.30" x2="195.40" y2="318.30" fill="none" stroke="#161616" stroke-width="1.05"/>
<line x1="161.20" y1="318.30" x2="161.20" y2="381.20" fill="none" stroke="#161616" stroke-width="1.05"/>
<line x1="163.70" y1="318.30" x2="163.70" y2="381.20" fill="none" stroke="#161616" stroke-width="1.05"/>
<line x1="192.90" y1="318.30" x2="192.90" y2="381.20" fill="none" stroke="#161616" stroke-width="1.05"/>
<line x1="195.40" y1="315.70" x2="195.40" y2="381.20" fill="none" stroke="#161616" stroke-width="1.05"/>
<g transform="translate(54.4,273.2) rotate(39.61)">
<rect x="28.00" y="-3.05" width="91.02" height="6.10" fill="#fff" stroke="#161616" stroke-width="1"/>
<rect x="0.00" y="-2.70" width="9.60" height="5.40" rx="0.8" fill="#2a2a2a" stroke="#161616" stroke-width="0.9"/>
<line x1="1.80" y1="-2.40" x2="1.80" y2="2.40" fill="none" stroke="#ddd" stroke-width="0.5"/>
<line x1="3.60" y1="-2.40" x2="3.60" y2="2.40" fill="none" stroke="#ddd" stroke-width="0.5"/>
<line x1="5.40" y1="-2.40" x2="5.40" y2="2.40" fill="none" stroke="#ddd" stroke-width="0.5"/>
<line x1="7.20" y1="-2.40" x2="7.20" y2="2.40" fill="none" stroke="#ddd" stroke-width="0.5"/>
<rect x="-1.20" y="-2.20" width="1.20" height="4.40" fill="#fff" stroke="#161616" stroke-width="0.8"/>
<rect x="9.60" y="-3.20" width="8.00" height="6.40" rx="0.8" fill="#222" stroke="#161616" stroke-width="0.9"/>
<circle cx="13.60" cy="0.00" r="1.50" fill="#fff" stroke="#161616" stroke-width="0.4"/>
<rect x="17.60" y="-2.40" width="5.40" height="4.80" fill="#fff" stroke="#161616" stroke-width="1"/>
<rect x="23.00" y="-3.20" width="5.00" height="6.40" fill="#222" stroke="#161616" stroke-width="0.9"/>
<rect x="24.60" y="-1.60" width="1.80" height="3.20" fill="#fff" stroke="#161616" stroke-width="0.4"/>
<path d="M29,3.05 L27.6,6.6 L31.4,8 L34,3.05" fill="#fff" stroke="#161616" stroke-width="0.9"/>
<rect x="117.02" y="-3.40" width="1.60" height="6.80" fill="#222" stroke="#161616" stroke-width="0.7"/>
<rect x="118.62" y="-2.20" width="2.80" height="4.40" fill="#fff" stroke="#161616" stroke-width="0.9"/>
<rect x="121.42" y="-3.20" width="1.40" height="6.40" fill="#222" stroke="#161616" stroke-width="0.7"/>
</g>
<rect x="125.10" y="342.30" width="35.20" height="2.60" fill="#fff" stroke="#161616" stroke-width="1.05"/>
<line x1="125.10" y1="344.90" x2="125.10" y2="381.20" fill="none" stroke="#161616" stroke-width="1.05"/>
<line x1="128.60" y1="344.90" x2="128.60" y2="381.20" fill="none" stroke="#161616" stroke-width="1.05"/>
<line x1="156.90" y1="344.90" x2="156.90" y2="381.20" fill="none" stroke="#161616" stroke-width="1.05"/>
<line x1="160.30" y1="344.90" x2="160.30" y2="381.20" fill="none" stroke="#161616" stroke-width="1.05"/>
<line x1="128.60" y1="356.90" x2="156.90" y2="356.90" fill="none" stroke="#161616" stroke-width="1.05"/>
<line x1="128.60" y1="359.40" x2="156.90" y2="359.40" fill="none" stroke="#161616" stroke-width="1.05"/>
<rect x="126.30" y="304.00" width="33.00" height="37.50" rx="1.6" fill="#fff" stroke="#161616" stroke-width="1.05"/>
<path d="M127.40,308.40 L131.00,305.00" fill="none" stroke="#161616" stroke-width="0.8"/>
<path d="M158.00,308.40 L154.40,305.00" fill="none" stroke="#161616" stroke-width="0.8"/>
<rect x="136.70" y="301.40" width="12.20" height="2.60" fill="#fff" stroke="#161616" stroke-width="0.9"/>
<line x1="136.40" y1="301.50" x2="149.20" y2="301.50" fill="none" stroke="#161616" stroke-width="1.5"/>
<circle cx="143.00" cy="319.40" r="15.30" fill="#fff" stroke="#161616" stroke-width="1.2"/>
<path d="M130.4,313 A14.2,14.2 0 0 0 134.6,330.6" fill="none" stroke="#161616" stroke-width="0.6"/>
<rect x="136.70" y="333.50" width="13.10" height="7.90" fill="#fff" stroke="#161616" stroke-width="1"/>
<line x1="139.00" y1="334.40" x2="139.00" y2="341.40" fill="none" stroke="#161616" stroke-width="0.7"/>
<line x1="147.20" y1="334.40" x2="147.20" y2="341.40" fill="none" stroke="#161616" stroke-width="0.7"/>
<rect x="135.10" y="321.20" width="15.40" height="12.30" fill="#fff" stroke="#161616" stroke-width="1.1"/>
<line x1="135.10" y1="321.60" x2="150.50" y2="321.60" fill="none" stroke="#161616" stroke-width="1.6"/>
<rect x="139.40" y="316.30" width="6.80" height="4.90" rx="0.8" fill="#fff" stroke="#161616" stroke-width="1.1"/>
<rect x="141.20" y="317.20" width="3.20" height="2.80" fill="#fff" stroke="#161616" stroke-width="0.8"/>
<rect x="120.00" y="315.30" width="6.30" height="8.10" rx="1" fill="#fff" stroke="#161616" stroke-width="0.9"/>
<rect x="123.20" y="315.30" width="3.10" height="8.10" fill="#2a2a2a" stroke="#161616" stroke-width="0.6"/>
<line x1="123.40" y1="317.00" x2="126.20" y2="317.00" fill="none" stroke="#aaa" stroke-width="0.35"/>
<line x1="123.40" y1="319.00" x2="126.20" y2="319.00" fill="none" stroke="#aaa" stroke-width="0.35"/>
<line x1="123.40" y1="321.00" x2="126.20" y2="321.00" fill="none" stroke="#aaa" stroke-width="0.35"/>
<path d="M170.25,330.50 L153.85,322.30 L152.15,325.70 L168.55,333.90 Z" fill="#fff" stroke="#161616" stroke-width="0.9"/>
<path d="M168.28,329.52 L157.46,324.10 L155.76,327.50 L166.58,332.92 Z" fill="#2a2a2a" stroke="#161616" stroke-width="0.6"/>
<line x1="166.75" y1="329.31" x2="165.49" y2="331.81" fill="none" stroke="#aaa" stroke-width="0.35"/>
<line x1="164.70" y1="328.28" x2="163.44" y2="330.79" fill="none" stroke="#aaa" stroke-width="0.35"/>
<line x1="162.65" y1="327.26" x2="161.39" y2="329.76" fill="none" stroke="#aaa" stroke-width="0.35"/>
<line x1="160.60" y1="326.23" x2="159.34" y2="328.74" fill="none" stroke="#aaa" stroke-width="0.35"/>
<line x1="158.55" y1="325.21" x2="157.29" y2="327.71" fill="none" stroke="#aaa" stroke-width="0.35"/>
<path d="M157.44,323.31 L155.80,322.49 L153.48,327.15 L155.12,327.97 Z" fill="#2a2a2a" stroke="#161616" stroke-width="0.5"/>
<path d="M170.76,330.31 L169.61,329.73 L167.55,333.85 L168.70,334.42 Z" fill="#fff" stroke="#161616" stroke-width="0.9"/>
<g transform="translate(54.4,273.2) rotate(39.61)">
<path d="M96,-3.05 L119.02,-3.05 M96,3.05 L119.02,3.05" fill="none" stroke="#161616" stroke-width="1"/>
<rect x="117.02" y="-3.80" width="1.60" height="7.60" fill="#222" stroke="#161616" stroke-width="0.7"/>
<rect x="118.62" y="-2.40" width="2.80" height="4.80" fill="#fff" stroke="#161616" stroke-width="0.9"/>
<rect x="121.42" y="-3.60" width="1.40" height="7.20" fill="#222" stroke="#161616" stroke-width="0.7"/>
</g>
<line x1="44.20" y1="315.20" x2="91.90" y2="315.20" fill="none" stroke="#161616" stroke-width="1.05"/>
<line x1="47.60" y1="318.50" x2="88.50" y2="318.50" fill="none" stroke="#161616" stroke-width="1.05"/>
<line x1="44.20" y1="315.20" x2="44.20" y2="381.20" fill="none" stroke="#161616" stroke-width="1.05"/>
<line x1="47.60" y1="318.50" x2="47.60" y2="381.20" fill="none" stroke="#161616" stroke-width="1.05"/>
<line x1="88.50" y1="318.50" x2="88.50" y2="381.20" fill="none" stroke="#161616" stroke-width="1.05"/>
<line x1="91.90" y1="315.20" x2="91.90" y2="381.20" fill="none" stroke="#161616" stroke-width="1.05"/>
<rect x="56.80" y="304.30" width="30.90" height="10.90" rx="1.4" fill="#fff" stroke="#161616" stroke-width="1.05"/>
<line x1="57.60" y1="306.20" x2="87.00" y2="306.20" fill="none" stroke="#161616" stroke-width="0.7"/>
<path d="M56.80,309.60 L53.60,312.00 L53.60,315.20" fill="none" stroke="#161616" stroke-width="0.9"/>
<path d="M87.70,309.60 L90.40,312.00 L90.40,315.20" fill="none" stroke="#161616" stroke-width="0.9"/>
<path d="M57.60,318.50 L69.40,342.30 L76.80,342.30 L87.70,318.50" fill="none" stroke="#161616" stroke-width="1"/>
<rect x="65.60" y="320.40" width="14.60" height="8.20" rx="1" fill="#fff" stroke="#161616" stroke-width="1.1"/>
<rect x="67.00" y="322.00" width="11.80" height="5.00" fill="none" stroke="#161616" stroke-width="0.7"/>
<line x1="65.60" y1="323.40" x2="80.20" y2="323.40" fill="none" stroke="#161616" stroke-width="0.7"/>
<g transform="translate(73.20,343.60) scale(1.000,1.000)">
<rect x="-3.40" y="0.00" width="7.00" height="1.40" fill="#333" stroke="#161616" stroke-width="0.6"/>
<rect x="-4.80" y="1.20" width="9.80" height="2.20" rx="1" fill="#333" stroke="#161616" stroke-width="0.7"/>
<circle cx="0.20" cy="2.30" r="0.90" fill="#ccc" stroke="#161616" stroke-width="0.3"/>
<rect x="-3.60" y="3.40" width="7.20" height="1.60" fill="#fff" stroke="#161616" stroke-width="0.9"/>
<rect x="-3.80" y="5.00" width="7.40" height="14.60" fill="#fff" stroke="#161616" stroke-width="1.1"/>
<rect x="-2.20" y="6.40" width="4.20" height="5.00" rx="0.8" fill="#fff" stroke="#161616" stroke-width="0.9"/>
<rect x="-2.20" y="12.80" width="4.20" height="5.40" fill="#fff" stroke="#161616" stroke-width="0.9"/>
<line x1="-0.20" y1="12.80" x2="-0.20" y2="18.20" fill="none" stroke="#161616" stroke-width="0.7"/>
<line x1="-3.80" y1="12.00" x2="3.60" y2="12.00" fill="none" stroke="#161616" stroke-width="1.2"/>
<line x1="-4.60" y1="19.80" x2="4.40" y2="19.80" fill="none" stroke="#161616" stroke-width="1.4"/>
<circle cx="5.80" cy="7.00" r="0.90" fill="#222" stroke="#161616" stroke-width="0.5"/>
<circle cx="6.40" cy="10.60" r="1.20" fill="#fff" stroke="#161616" stroke-width="0.9"/>
<rect x="5.40" y="11.60" width="1.80" height="24.60" fill="#333" stroke="#161616" stroke-width="0.5"/>
<rect x="-7.00" y="6.40" width="1.40" height="11.60" fill="#333" stroke="#161616" stroke-width="0.5"/>
<rect x="-8.40" y="12.00" width="4.00" height="1.20" fill="#333" stroke="#161616" stroke-width="0.4"/>
<rect x="-16.60" y="8.00" width="7.60" height="11.40" rx="2" fill="#fff" stroke="#161616" stroke-width="1.1"/>
<rect x="-13.60" y="5.80" width="2.80" height="2.20" rx="0.6" fill="#fff" stroke="#161616" stroke-width="0.9"/>
<line x1="-11.00" y1="9.40" x2="-11.00" y2="18.00" fill="none" stroke="#161616" stroke-width="0.8"/>
<line x1="-12.60" y1="9.40" x2="-12.60" y2="18.00" fill="none" stroke="#161616" stroke-width="0.6"/>
<rect x="-10.40" y="14.00" width="2.00" height="4.40" fill="#333" stroke="#161616" stroke-width="0.4"/>
<rect x="-14.20" y="17.60" width="10.40" height="3.30" fill="#333" stroke="#161616" stroke-width="0.6"/>
<line x1="-13.40" y1="19.20" x2="-5.00" y2="19.20" fill="none" stroke="#ccc" stroke-width="0.5"/>
<rect x="-10.00" y="20.90" width="1.60" height="15.30" fill="#333" stroke="#161616" stroke-width="0.4"/>
<rect x="-9.60" y="33.60" width="16.80" height="2.60" fill="#fff" stroke="#161616" stroke-width="1"/>
<line x1="-10.00" y1="33.40" x2="7.40" y2="33.40" fill="none" stroke="#161616" stroke-width="1.3"/>
<path d="M-10,35.8 L-16,35.8 Q-16.8,34 -14.6,33.4 L-10,33.4" fill="none" stroke="#161616" stroke-width="0.9"/>
<path d="M-1.2,30.4 L-0.6,32 L0.2,31.6" fill="none" stroke="#161616" stroke-width="0.6"/>
</g>
<rect x="95.20" y="346.50" width="15.80" height="34.70" fill="#fff" stroke="#161616" stroke-width="1"/>
<rect x="96.30" y="347.60" width="13.60" height="32.60" fill="none" stroke="#161616" stroke-width="0.7"/>
<circle cx="97.80" cy="350.10" r="0.90" fill="none" stroke="#161616" stroke-width="0.6"/>
<circle cx="101.33" cy="350.10" r="0.90" fill="none" stroke="#161616" stroke-width="0.6"/>
<circle cx="104.87" cy="350.10" r="0.90" fill="none" stroke="#161616" stroke-width="0.6"/>
<circle cx="108.40" cy="350.10" r="0.90" fill="none" stroke="#161616" stroke-width="0.6"/>
<rect x="97.40" y="353.70" width="1.00" height="1.20" fill="#333" stroke="#161616" stroke-width="0.3"/>
<rect x="100.93" y="353.70" width="1.00" height="1.20" fill="#333" stroke="#161616" stroke-width="0.3"/>
<rect x="104.47" y="353.70" width="1.00" height="1.20" fill="#333" stroke="#161616" stroke-width="0.3"/>
<rect x="108.00" y="353.70" width="1.00" height="1.20" fill="#333" stroke="#161616" stroke-width="0.3"/>
<circle cx="97.60" cy="357.90" r="0.45" fill="#333" stroke="#161616" stroke-width="0.3"/>
<circle cx="100.35" cy="357.90" r="0.45" fill="#333" stroke="#161616" stroke-width="0.3"/>
<circle cx="103.10" cy="357.90" r="0.45" fill="#333" stroke="#161616" stroke-width="0.3"/>
<circle cx="105.85" cy="357.90" r="0.45" fill="#333" stroke="#161616" stroke-width="0.3"/>
<circle cx="108.60" cy="357.90" r="0.45" fill="#333" stroke="#161616" stroke-width="0.3"/>
<circle cx="97.60" cy="359.80" r="0.45" fill="#333" stroke="#161616" stroke-width="0.3"/>
<circle cx="100.35" cy="359.80" r="0.45" fill="#333" stroke="#161616" stroke-width="0.3"/>
<circle cx="103.10" cy="359.80" r="0.45" fill="#333" stroke="#161616" stroke-width="0.3"/>
<circle cx="105.85" cy="359.80" r="0.45" fill="#333" stroke="#161616" stroke-width="0.3"/>
<circle cx="108.60" cy="359.80" r="0.45" fill="#333" stroke="#161616" stroke-width="0.3"/>
<circle cx="97.60" cy="361.70" r="0.45" fill="#333" stroke="#161616" stroke-width="0.3"/>
<circle cx="100.35" cy="361.70" r="0.45" fill="#333" stroke="#161616" stroke-width="0.3"/>
<circle cx="103.10" cy="361.70" r="0.45" fill="#333" stroke="#161616" stroke-width="0.3"/>
<circle cx="105.85" cy="361.70" r="0.45" fill="#333" stroke="#161616" stroke-width="0.3"/>
<circle cx="108.60" cy="361.70" r="0.45" fill="#333" stroke="#161616" stroke-width="0.3"/>
<circle cx="97.60" cy="363.60" r="0.45" fill="#333" stroke="#161616" stroke-width="0.3"/>
<circle cx="100.35" cy="363.60" r="0.45" fill="#333" stroke="#161616" stroke-width="0.3"/>
<circle cx="103.10" cy="363.60" r="0.45" fill="#333" stroke="#161616" stroke-width="0.3"/>
<circle cx="105.85" cy="363.60" r="0.45" fill="#333" stroke="#161616" stroke-width="0.3"/>
<circle cx="108.60" cy="363.60" r="0.45" fill="#333" stroke="#161616" stroke-width="0.3"/>
<rect x="108.40" y="362.10" width="2.00" height="3.20" fill="#fff" stroke="#161616" stroke-width="0.6"/>
</g>
<g id="d5">
<text class="n" x="231.80" y="276.80" font-size="25.1" fill="#1a1a1a">5</text>
<line x1="236.60" y1="381.30" x2="412.40" y2="381.30" fill="none" stroke="#161616" stroke-width="1"/>
<ellipse cx="244.75" cy="368.17" rx="5.55" ry="2.32" fill="none" stroke="#161616" stroke-width="0.8"/>
<ellipse cx="244.75" cy="372.50" rx="5.55" ry="2.32" fill="none" stroke="#161616" stroke-width="0.8"/>
<ellipse cx="244.75" cy="376.83" rx="5.55" ry="2.32" fill="none" stroke="#161616" stroke-width="0.8"/>
<ellipse cx="256.25" cy="368.17" rx="5.55" ry="2.32" fill="none" stroke="#161616" stroke-width="0.8"/>
<ellipse cx="256.25" cy="372.50" rx="5.55" ry="2.32" fill="none" stroke="#161616" stroke-width="0.8"/>
<ellipse cx="256.25" cy="376.83" rx="5.55" ry="2.32" fill="none" stroke="#161616" stroke-width="0.8"/>
<rect x="237.00" y="379.20" width="27.00" height="1.80" fill="#444" stroke="#161616" stroke-width="0.7"/>
<g transform="translate(274.40,380.60) scale(0.991,0.991)">
<path d="M-4.6,-18.4 L-7.4,-9 L-9.2,-4 L-7,-2.6 L-3,-5.6 L-0.6,-9.6 L1.6,-15.4 Z" fill="#fff" stroke="#1c1c1c" stroke-width="1.11"/>
<path d="M-9.6,-3.8 L-7,-3.2 L-6.4,-0.4 L-9.8,-0.6 Z" fill="#1c1c1c" stroke="#1c1c1c" stroke-width="1.11"/>
<path d="M1.2,-15.6 L3.2,-8.4 L3.4,-3.4 L6.4,-2.8 L6.6,-8 L5.6,-13 L3.6,-17.4 Z" fill="#fff" stroke="#1c1c1c" stroke-width="1.11"/>
<path d="M3.2,-3.6 L6.4,-3 L8.8,-1.4 L8.4,-0.4 L3.6,-1 Z" fill="#1c1c1c" stroke="#1c1c1c" stroke-width="1.11"/>
<path d="M2.4,-28.6 Q-1,-27.6 -2.8,-24.4 L-4.8,-18 L1.6,-15.2 L3.8,-17.2 L5.6,-21 L6.2,-27.4 Z" fill="#fff" stroke="#1c1c1c" stroke-width="1.11"/>
<path d="M3.6,-27 L4.6,-23 L8.8,-17.6 L11.2,-17.8 L11.8,-19.8 L10.2,-20.8 L6.6,-26.6" fill="#fff" stroke="#1c1c1c" stroke-width="1.11"/>
<path d="M-1.6,-23.4 L4.6,-20.2 L8.6,-17.8" fill="none" stroke="#1c1c1c" stroke-width="1.11"/>
<path d="M3,-30.6 L3.2,-28.4 Q5,-27.4 6.6,-28.2 L7.2,-30.6 Z" fill="#fff" stroke="#1c1c1c" stroke-width="1.11"/>
<path d="M2.6,-30.6 L3.2,-33.3 L7.6,-32.6 L8,-30.2 Z" fill="#444" stroke="#1c1c1c" stroke-width="1.11"/>
</g>
<g transform="translate(282.00,380.80) scale(1.000)">
<rect x="0.00" y="-12.40" width="6.60" height="12.40" fill="#fff" stroke="#161616" stroke-width="1"/>
<line x1="-0.60" y1="-11.20" x2="7.20" y2="-11.20" fill="none" stroke="#161616" stroke-width="1.1"/>
<path d="M6.6,-12.2 L19.6,-12.2 L16.2,-3.4 L9.8,-3.4 Z" fill="#fff" stroke="#161616" stroke-width="1"/>
<line x1="7.40" y1="-10.40" x2="18.80" y2="-10.40" fill="none" stroke="#161616" stroke-width="0.7"/>
<rect x="9.80" y="-3.40" width="6.40" height="1.40" fill="#fff" stroke="#161616" stroke-width="0.8"/>
<path d="M7.6,-11 L7.6,0 M18.8,-11 L18.8,0 M9.4,-0.8 L17,-0.8" fill="none" stroke="#161616" stroke-width="0.9"/>
<path d="M8.6,-12.4 L12.6,-24.6 Q13.4,-26.6 15.6,-26.6 L19,-26.6" fill="none" stroke="#161616" stroke-width="1"/>
<rect x="14.00" y="-25.60" width="6.60" height="13.20" fill="#222" stroke="#161616" stroke-width="0.8"/>
<line x1="16.20" y1="-24.60" x2="16.20" y2="-13.00" fill="none" stroke="#ccc" stroke-width="0.5"/>
<line x1="18.40" y1="-24.60" x2="18.40" y2="-13.00" fill="none" stroke="#ccc" stroke-width="0.5"/>
<path d="M20.6,-24.6 L24.6,-24.6 L24.6,-16.6 L20.6,-13.6" fill="#fff" stroke="#161616" stroke-width="0.9"/>
<rect x="24.60" y="-23.60" width="1.80" height="3.60" fill="#333" stroke="#161616" stroke-width="0.6"/>
<path d="M26.4,-22 L27.6,-22" fill="none" stroke="#161616" stroke-width="1"/>
<path d="M7.2,-14.6 L6.6,-12.4" fill="none" stroke="#161616" stroke-width="0.8"/>
</g>
<path d="M301.60,378.40 L306.95,378.40 A5.35,5.35 0 0 0 312.30,373.05 L312.30,275.40 A7.40,7.40 0 0 1 319.70,268.00 L367.00,268.00" fill="none" stroke="#3c3c3c" stroke-width="2.1"/>
<path d="M301.60,378.40 L306.95,378.40 A5.35,5.35 0 0 0 312.30,373.05 L312.30,275.40 A7.40,7.40 0 0 1 319.70,268.00 L367.00,268.00" fill="none" stroke="#8a8a8a" stroke-width="0.65"/>
<path d="M336.40,292.60 L336.40,265.80 A7.40,7.40 0 0 1 343.80,258.40 L369.00,258.40" fill="none" stroke="#3c3c3c" stroke-width="2.1"/>
<path d="M336.40,292.60 L336.40,265.80 A7.40,7.40 0 0 1 343.80,258.40 L369.00,258.40" fill="none" stroke="#8a8a8a" stroke-width="0.65"/>
<line x1="327.40" y1="317.50" x2="405.20" y2="317.50" fill="none" stroke="#161616" stroke-width="1.05"/>
<line x1="327.40" y1="321.40" x2="405.20" y2="321.40" fill="none" stroke="#161616" stroke-width="1.05"/>
<line x1="327.40" y1="317.50" x2="327.40" y2="381.30" fill="none" stroke="#161616" stroke-width="1.05"/>
<line x1="331.60" y1="321.40" x2="331.60" y2="381.30" fill="none" stroke="#161616" stroke-width="1.05"/>
<line x1="400.80" y1="321.40" x2="400.80" y2="381.30" fill="none" stroke="#161616" stroke-width="1.05"/>
<line x1="405.20" y1="317.50" x2="405.20" y2="381.30" fill="none" stroke="#161616" stroke-width="1.05"/>
<g transform="translate(333.60,317.40) scale(0.980)">
<rect x="-6.20" y="-8.00" width="16.60" height="5.20" fill="#fff" stroke="#161616" stroke-width="1"/>
<line x1="-6.20" y1="-6.40" x2="10.40" y2="-6.40" fill="none" stroke="#161616" stroke-width="0.7"/>
<rect x="-6.80" y="-3.20" width="17.80" height="2.60" fill="#fff" stroke="#161616" stroke-width="0.9"/>
<line x1="-7.40" y1="-0.50" x2="11.60" y2="-0.50" fill="none" stroke="#161616" stroke-width="1.3"/>
<rect x="-6.40" y="-14.20" width="17.20" height="6.20" rx="1" fill="#fff" stroke="#161616" stroke-width="1"/>
<circle cx="-2.20" cy="-10.90" r="2.70" fill="#fff" stroke="#161616" stroke-width="1.1"/>
<circle cx="-2.20" cy="-10.90" r="1.10" fill="#333" stroke="#161616" stroke-width="0.5"/>
<circle cx="5.30" cy="-10.90" r="2.70" fill="#fff" stroke="#161616" stroke-width="1.1"/>
<circle cx="5.30" cy="-10.90" r="1.10" fill="#333" stroke="#161616" stroke-width="0.5"/>
<rect x="-6.40" y="-15.00" width="17.20" height="1.60" fill="#333" stroke="#161616" stroke-width="0.6"/>
<rect x="-8.50" y="-25.70" width="13.20" height="10.50" rx="2.6" fill="#fff" stroke="#161616" stroke-width="1.1"/>
<line x1="-6.00" y1="-23.00" x2="4.50" y2="-23.00" fill="none" stroke="#161616" stroke-width="0.6"/>
<line x1="-6.00" y1="-21.00" x2="4.50" y2="-21.00" fill="none" stroke="#161616" stroke-width="0.6"/>
<line x1="-6.00" y1="-19.00" x2="4.50" y2="-19.00" fill="none" stroke="#161616" stroke-width="0.6"/>
<line x1="-6.20" y1="-24.60" x2="-6.20" y2="-16.40" fill="none" stroke="#161616" stroke-width="0.8"/>
<rect x="-3.90" y="-28.00" width="4.00" height="2.30" fill="#333" stroke="#161616" stroke-width="0.6"/>
<rect x="4.70" y="-23.00" width="2.80" height="7.00" fill="#fff" stroke="#161616" stroke-width="0.9"/>
</g>
<g transform="translate(371.40,258.60) scale(1.000)">
<rect x="-5.00" y="1.60" width="10.00" height="8.80" rx="0.8" fill="#fff" stroke="#161616" stroke-width="1"/>
<rect x="-3.20" y="0.00" width="5.60" height="1.60" fill="#333" stroke="#161616" stroke-width="0.6"/>
<path d="M5,1.2 L8.4,-0.8 L8.8,2.6 L5,3.8 Z" fill="#222" stroke="#161616" stroke-width="0.6"/>
<rect x="-4.40" y="10.40" width="8.80" height="15.60" fill="#fff" stroke="#161616" stroke-width="1"/>
<line x1="-5.40" y1="13.60" x2="5.40" y2="13.60" fill="none" stroke="#161616" stroke-width="1.1"/>
<line x1="-5.40" y1="15.60" x2="5.40" y2="15.60" fill="none" stroke="#161616" stroke-width="1.1"/>
<line x1="-5.40" y1="18.80" x2="5.40" y2="18.80" fill="none" stroke="#161616" stroke-width="1.1"/>
<line x1="-5.40" y1="20.80" x2="5.40" y2="20.80" fill="none" stroke="#161616" stroke-width="1.1"/>
<line x1="-4.40" y1="24.00" x2="4.40" y2="24.00" fill="none" stroke="#161616" stroke-width="0.8"/>
</g>
<path d="M358.20,317.40 L358.20,288.50 Q358.20,286.10 360.60,286.10 L382.60,286.10 Q385.00,286.10 385.00,288.50 L385.00,317.40" fill="#fff" stroke="#161616" stroke-width="1"/>
<circle cx="371.70" cy="298.60" r="11.40" fill="#fff" stroke="#333" stroke-width="0.9"/>
<path d="M359.20,292.10 L361.80,287.70 M384.00,292.10 L381.40,287.70" fill="none" stroke="#161616" stroke-width="0.8"/>
<line x1="364.90" y1="286.10" x2="364.90" y2="317.40" fill="none" stroke="#161616" stroke-width="1"/>
<line x1="379.40" y1="286.10" x2="379.40" y2="317.40" fill="none" stroke="#161616" stroke-width="1"/>
<path d="M365.30,305.00 Q372.10,311.00 378.90,305.00" fill="none" stroke="#161616" stroke-width="0.9"/>
<line x1="364.90" y1="304.80" x2="379.40" y2="304.80" fill="none" stroke="#161616" stroke-width="0.8"/>
<path d="M365.70,301.60 L365.70,294.60 Q366.10,292.60 369.10,292.40 L372.10,291.00 L375.10,292.40 Q377.90,292.60 378.30,294.60 L378.30,301.60 Z" fill="#2a2a2a" stroke="#161616" stroke-width="0.7"/>
<circle cx="372.00" cy="297.00" r="2.70" fill="#777" stroke="#ccc" stroke-width="0.5"/>
<rect x="364.90" y="301.60" width="14.50" height="2.40" fill="#fff" stroke="#161616" stroke-width="0.9"/>
<rect x="366.10" y="302.20" width="1.60" height="1.20" fill="#333" stroke="#161616" stroke-width="0.3"/>
<rect x="376.50" y="302.20" width="1.60" height="1.20" fill="#333" stroke="#161616" stroke-width="0.3"/>
<path d="M369.10,301.60 Q372.10,303.60 375.10,301.60" fill="none" stroke="#161616" stroke-width="0.7"/>
<path d="M350.25,313.44 L364.25,304.44 L362.15,301.16 L348.15,310.16 Z" fill="#fff" stroke="#161616" stroke-width="0.9"/>
<path d="M351.93,312.36 L361.17,306.42 L359.07,303.14 L349.83,309.08 Z" fill="#2a2a2a" stroke="#161616" stroke-width="0.6"/>
<line x1="352.78" y1="311.22" x2="351.22" y2="308.78" fill="none" stroke="#aaa" stroke-width="0.35"/>
<line x1="354.53" y1="310.09" x2="352.97" y2="307.66" fill="none" stroke="#aaa" stroke-width="0.35"/>
<line x1="356.28" y1="308.97" x2="354.72" y2="306.53" fill="none" stroke="#aaa" stroke-width="0.35"/>
<line x1="358.03" y1="307.84" x2="356.47" y2="305.41" fill="none" stroke="#aaa" stroke-width="0.35"/>
<line x1="359.78" y1="306.72" x2="358.22" y2="304.28" fill="none" stroke="#aaa" stroke-width="0.35"/>
<path d="M361.83,306.83 L363.23,305.93 L360.37,301.47 L358.97,302.37 Z" fill="#2a2a2a" stroke="#161616" stroke-width="0.5"/>
<path d="M350.19,313.96 L351.17,313.33 L348.63,309.37 L347.65,310.00 Z" fill="#fff" stroke="#161616" stroke-width="0.9"/>
<rect x="355.50" y="327.05" width="2.99" height="51.14" fill="#e4e4e4" stroke="#161616" stroke-width="0.9"/>
<rect x="385.71" y="327.05" width="2.99" height="51.14" fill="#e4e4e4" stroke="#161616" stroke-width="0.9"/>
<line x1="355.50" y1="327.05" x2="388.70" y2="327.05" fill="none" stroke="#161616" stroke-width="1.1"/>
<line x1="358.49" y1="329.89" x2="385.71" y2="329.89" fill="none" stroke="#161616" stroke-width="0.9"/>
<rect x="366.46" y="324.50" width="11.29" height="2.27" fill="#333" stroke="#161616" stroke-width="0.8"/>
<rect x="366.12" y="327.33" width="12.28" height="7.65" fill="#fff" stroke="#161616" stroke-width="1"/>
<rect x="368.78" y="334.14" width="6.97" height="5.39" fill="#fff" stroke="#161616" stroke-width="1"/>
<line x1="368.78" y1="336.69" x2="375.75" y2="336.69" fill="none" stroke="#161616" stroke-width="0.7"/>
<rect x="360.08" y="329.89" width="1.80" height="9.92" fill="none" stroke="#161616" stroke-width="0.7"/>
<path d="M359.58,338.68 L362.38,338.68 L360.98,341.51 Z" fill="#333" stroke="#161616" stroke-width="0.5"/>
<rect x="382.32" y="329.89" width="1.80" height="9.92" fill="none" stroke="#161616" stroke-width="0.7"/>
<path d="M381.82,338.68 L384.62,338.68 L383.22,341.51 Z" fill="#333" stroke="#161616" stroke-width="0.5"/>
<path d="M362.14,341.51 L362.14,366.46 M382.06,341.51 L382.06,366.46" fill="none" stroke="#8a8a8a" stroke-width="0.6"/>
<path d="M362.14,341.51 L365.46,348.31 Q367.45,344.91 368.78,339.81" fill="none" stroke="#8a8a8a" stroke-width="0.6"/>
<path d="M382.06,341.51 L378.74,348.31 Q376.75,344.91 375.75,339.81" fill="none" stroke="#8a8a8a" stroke-width="0.6"/>
<path d="M368.78,344.91 Q372.10,347.18 375.75,344.91" fill="none" stroke="#8a8a8a" stroke-width="0.6"/>
<path d="M358.49,363.74 L367.78,372.13" fill="none" stroke="#161616" stroke-width="1.2"/>
<path d="M385.71,363.74 L376.42,372.13" fill="none" stroke="#161616" stroke-width="1.2"/>
<rect x="360.81" y="372.24" width="22.58" height="2.83" fill="#555" stroke="#161616" stroke-width="0.8"/>
<rect x="355.50" y="375.36" width="33.20" height="2.83" fill="#fff" stroke="#161616" stroke-width="0.9"/>
<rect x="362.80" y="375.81" width="18.59" height="1.98" fill="#888" stroke="#161616" stroke-width="0.5"/>
<rect x="355.50" y="378.19" width="7.30" height="3.01" rx="0.8" fill="#fff" stroke="#161616" stroke-width="0.9"/>
<rect x="381.40" y="378.19" width="7.30" height="3.01" rx="0.8" fill="#fff" stroke="#161616" stroke-width="0.9"/>
<line x1="356.50" y1="379.95" x2="361.81" y2="379.95" fill="none" stroke="#161616" stroke-width="0.8"/>
<line x1="382.39" y1="379.95" x2="387.70" y2="379.95" fill="none" stroke="#161616" stroke-width="0.8"/>
</g>
<g id="d6">
<text class="n" x="455.00" y="276.80" font-size="25.1" fill="#1a1a1a">6</text>
<line x1="438.00" y1="381.40" x2="668.00" y2="381.40" fill="none" stroke="#161616" stroke-width="1"/>
<ellipse cx="450.70" cy="368.53" rx="5.30" ry="2.28" fill="none" stroke="#161616" stroke-width="0.8"/>
<ellipse cx="450.70" cy="372.80" rx="5.30" ry="2.28" fill="none" stroke="#161616" stroke-width="0.8"/>
<ellipse cx="450.70" cy="377.07" rx="5.30" ry="2.28" fill="none" stroke="#161616" stroke-width="0.8"/>
<ellipse cx="461.70" cy="368.53" rx="5.30" ry="2.28" fill="none" stroke="#161616" stroke-width="0.8"/>
<ellipse cx="461.70" cy="372.80" rx="5.30" ry="2.28" fill="none" stroke="#161616" stroke-width="0.8"/>
<ellipse cx="461.70" cy="377.07" rx="5.30" ry="2.28" fill="none" stroke="#161616" stroke-width="0.8"/>
<rect x="443.40" y="379.40" width="25.60" height="1.70" fill="#444" stroke="#161616" stroke-width="0.7"/>
<g transform="translate(480.60,380.80) scale(0.991,0.991)">
<path d="M-4.6,-18.4 L-7.4,-9 L-9.2,-4 L-7,-2.6 L-3,-5.6 L-0.6,-9.6 L1.6,-15.4 Z" fill="#fff" stroke="#1c1c1c" stroke-width="1.11"/>
<path d="M-9.6,-3.8 L-7,-3.2 L-6.4,-0.4 L-9.8,-0.6 Z" fill="#1c1c1c" stroke="#1c1c1c" stroke-width="1.11"/>
<path d="M1.2,-15.6 L3.2,-8.4 L3.4,-3.4 L6.4,-2.8 L6.6,-8 L5.6,-13 L3.6,-17.4 Z" fill="#fff" stroke="#1c1c1c" stroke-width="1.11"/>
<path d="M3.2,-3.6 L6.4,-3 L8.8,-1.4 L8.4,-0.4 L3.6,-1 Z" fill="#1c1c1c" stroke="#1c1c1c" stroke-width="1.11"/>
<path d="M2.4,-28.6 Q-1,-27.6 -2.8,-24.4 L-4.8,-18 L1.6,-15.2 L3.8,-17.2 L5.6,-21 L6.2,-27.4 Z" fill="#fff" stroke="#1c1c1c" stroke-width="1.11"/>
<path d="M3.6,-27 L4.6,-23 L8.8,-17.6 L11.2,-17.8 L11.8,-19.8 L10.2,-20.8 L6.6,-26.6" fill="#fff" stroke="#1c1c1c" stroke-width="1.11"/>
<path d="M-1.6,-23.4 L4.6,-20.2 L8.6,-17.8" fill="none" stroke="#1c1c1c" stroke-width="1.11"/>
<path d="M3,-30.6 L3.2,-28.4 Q5,-27.4 6.6,-28.2 L7.2,-30.6 Z" fill="#fff" stroke="#1c1c1c" stroke-width="1.11"/>
<path d="M2.6,-30.6 L3.2,-33.3 L7.6,-32.6 L8,-30.2 Z" fill="#444" stroke="#1c1c1c" stroke-width="1.11"/>
</g>
<g transform="translate(488.40,380.90) scale(1.000)">
<rect x="0.00" y="-12.40" width="6.60" height="12.40" fill="#fff" stroke="#161616" stroke-width="1"/>
<line x1="-0.60" y1="-11.20" x2="7.20" y2="-11.20" fill="none" stroke="#161616" stroke-width="1.1"/>
<path d="M6.6,-12.2 L19.6,-12.2 L16.2,-3.4 L9.8,-3.4 Z" fill="#fff" stroke="#161616" stroke-width="1"/>
<line x1="7.40" y1="-10.40" x2="18.80" y2="-10.40" fill="none" stroke="#161616" stroke-width="0.7"/>
<rect x="9.80" y="-3.40" width="6.40" height="1.40" fill="#fff" stroke="#161616" stroke-width="0.8"/>
<path d="M7.6,-11 L7.6,0 M18.8,-11 L18.8,0 M9.4,-0.8 L17,-0.8" fill="none" stroke="#161616" stroke-width="0.9"/>
<path d="M8.6,-12.4 L12.6,-24.6 Q13.4,-26.6 15.6,-26.6 L19,-26.6" fill="none" stroke="#161616" stroke-width="1"/>
<rect x="14.00" y="-25.60" width="6.60" height="13.20" fill="#222" stroke="#161616" stroke-width="0.8"/>
<line x1="16.20" y1="-24.60" x2="16.20" y2="-13.00" fill="none" stroke="#ccc" stroke-width="0.5"/>
<line x1="18.40" y1="-24.60" x2="18.40" y2="-13.00" fill="none" stroke="#ccc" stroke-width="0.5"/>
<path d="M20.6,-24.6 L24.6,-24.6 L24.6,-16.6 L20.6,-13.6" fill="#fff" stroke="#161616" stroke-width="0.9"/>
<rect x="24.60" y="-23.60" width="1.80" height="3.60" fill="#333" stroke="#161616" stroke-width="0.6"/>
<path d="M26.4,-22 L27.6,-22" fill="none" stroke="#161616" stroke-width="1"/>
<path d="M7.2,-14.6 L6.6,-12.4" fill="none" stroke="#161616" stroke-width="0.8"/>
</g>
<path d="M508.00,378.20 L514.30,378.20 A6.30,6.30 0 0 0 520.60,371.90 L520.60,290.30 A7.00,7.00 0 0 1 527.60,283.30 L571.00,283.30" fill="none" stroke="#3c3c3c" stroke-width="1.6"/>
<path d="M542.10,356.00 L542.10,281.40 A7.60,7.60 0 0 1 549.70,273.80 L572.00,273.80" fill="none" stroke="#3c3c3c" stroke-width="1.6"/>
<g transform="translate(539.60,381.20) scale(0.980)">
<rect x="-6.20" y="-8.00" width="16.60" height="5.20" fill="#fff" stroke="#161616" stroke-width="1"/>
<line x1="-6.20" y1="-6.40" x2="10.40" y2="-6.40" fill="none" stroke="#161616" stroke-width="0.7"/>
<rect x="-6.80" y="-3.20" width="17.80" height="2.60" fill="#fff" stroke="#161616" stroke-width="0.9"/>
<line x1="-7.40" y1="-0.50" x2="11.60" y2="-0.50" fill="none" stroke="#161616" stroke-width="1.3"/>
<rect x="-6.40" y="-14.20" width="17.20" height="6.20" rx="1" fill="#fff" stroke="#161616" stroke-width="1"/>
<circle cx="-2.20" cy="-10.90" r="2.70" fill="#fff" stroke="#161616" stroke-width="1.1"/>
<circle cx="-2.20" cy="-10.90" r="1.10" fill="#333" stroke="#161616" stroke-width="0.5"/>
<circle cx="5.30" cy="-10.90" r="2.70" fill="#fff" stroke="#161616" stroke-width="1.1"/>
<circle cx="5.30" cy="-10.90" r="1.10" fill="#333" stroke="#161616" stroke-width="0.5"/>
<rect x="-6.40" y="-15.00" width="17.20" height="1.60" fill="#333" stroke="#161616" stroke-width="0.6"/>
<rect x="-8.50" y="-25.70" width="13.20" height="10.50" rx="2.6" fill="#fff" stroke="#161616" stroke-width="1.1"/>
<line x1="-6.00" y1="-23.00" x2="4.50" y2="-23.00" fill="none" stroke="#161616" stroke-width="0.6"/>
<line x1="-6.00" y1="-21.00" x2="4.50" y2="-21.00" fill="none" stroke="#161616" stroke-width="0.6"/>
<line x1="-6.00" y1="-19.00" x2="4.50" y2="-19.00" fill="none" stroke="#161616" stroke-width="0.6"/>
<line x1="-6.20" y1="-24.60" x2="-6.20" y2="-16.40" fill="none" stroke="#161616" stroke-width="0.8"/>
<rect x="-3.90" y="-28.00" width="4.00" height="2.30" fill="#333" stroke="#161616" stroke-width="0.6"/>
<rect x="4.70" y="-23.00" width="2.80" height="7.00" fill="#fff" stroke="#161616" stroke-width="0.9"/>
</g>
<line x1="552.00" y1="333.20" x2="601.20" y2="333.20" fill="none" stroke="#161616" stroke-width="1.05"/>
<line x1="555.00" y1="336.20" x2="598.40" y2="336.20" fill="none" stroke="#161616" stroke-width="1.05"/>
<line x1="552.00" y1="333.20" x2="552.00" y2="381.40" fill="none" stroke="#161616" stroke-width="1.05"/>
<line x1="555.00" y1="336.20" x2="555.00" y2="381.40" fill="none" stroke="#161616" stroke-width="1.05"/>
<line x1="598.40" y1="336.20" x2="598.40" y2="381.40" fill="none" stroke="#161616" stroke-width="1.05"/>
<line x1="601.20" y1="333.20" x2="601.20" y2="381.40" fill="none" stroke="#161616" stroke-width="1.05"/>
<line x1="555.00" y1="351.60" x2="598.40" y2="351.60" fill="none" stroke="#161616" stroke-width="1.05"/>
<line x1="555.00" y1="354.60" x2="598.40" y2="354.60" fill="none" stroke="#161616" stroke-width="1.05"/>
<path d="M555.00,340.00 L558.60,336.20" fill="none" stroke="#161616" stroke-width="0.8"/>
<path d="M598.40,340.00 L594.80,336.20" fill="none" stroke="#161616" stroke-width="0.8"/>
<path d="M563.8,336.2 L563.8,351.6 M592,336.2 L592,351.6" fill="none" stroke="#161616" stroke-width="1"/>
<path d="M561.6,349.6 L563.8,354.6 L573,371.4 L585.6,371.4 L592,354.6 L594,349.6" fill="none" stroke="#161616" stroke-width="1"/>
<rect x="572.00" y="371.40" width="14.40" height="1.80" fill="#fff" stroke="#161616" stroke-width="0.9"/>
<g transform="translate(576.20,274.20) scale(1.000)">
<rect x="-5.00" y="1.60" width="10.00" height="8.80" rx="0.8" fill="#fff" stroke="#161616" stroke-width="1"/>
<rect x="-3.20" y="0.00" width="5.60" height="1.60" fill="#333" stroke="#161616" stroke-width="0.6"/>
<path d="M5,1.2 L8.4,-0.8 L8.8,2.6 L5,3.8 Z" fill="#222" stroke="#161616" stroke-width="0.6"/>
<rect x="-4.40" y="10.40" width="8.80" height="15.60" fill="#fff" stroke="#161616" stroke-width="1"/>
<line x1="-5.40" y1="13.60" x2="5.40" y2="13.60" fill="none" stroke="#161616" stroke-width="1.1"/>
<line x1="-5.40" y1="15.60" x2="5.40" y2="15.60" fill="none" stroke="#161616" stroke-width="1.1"/>
<line x1="-5.40" y1="18.80" x2="5.40" y2="18.80" fill="none" stroke="#161616" stroke-width="1.1"/>
<line x1="-5.40" y1="20.80" x2="5.40" y2="20.80" fill="none" stroke="#161616" stroke-width="1.1"/>
<line x1="-4.40" y1="24.00" x2="4.40" y2="24.00" fill="none" stroke="#161616" stroke-width="0.8"/>
</g>
<path d="M563.20,333.20 L563.20,303.70 Q563.20,301.70 565.20,301.70 L588.00,301.70 Q590.00,301.70 590.00,303.70 L590.00,333.20" fill="#fff" stroke="#161616" stroke-width="1"/>
<path d="M564.00,306.70 L567.60,302.70 M589.20,306.70 L585.60,302.70" fill="none" stroke="#161616" stroke-width="0.8"/>
<circle cx="576.40" cy="314.40" r="12.20" fill="#fff" stroke="#161616" stroke-width="1.1"/>
<rect x="568.60" y="316.40" width="15.60" height="16.80" fill="#fff" stroke="#161616" stroke-width="1"/>
<line x1="568.00" y1="317.00" x2="584.80" y2="317.00" fill="none" stroke="#161616" stroke-width="1.5"/>
<rect x="573.10" y="309.50" width="6.80" height="6.90" rx="1.6" fill="#fff" stroke="#161616" stroke-width="1"/>
<circle cx="576.40" cy="313.40" r="2.30" fill="#fff" stroke="#161616" stroke-width="1"/>
<circle cx="576.40" cy="313.40" r="0.70" fill="#333" stroke="#161616" stroke-width="0.4"/>
<rect x="570.20" y="311.40" width="2.90" height="3.60" rx="0.8" fill="#fff" stroke="#161616" stroke-width="0.8"/>
<path d="M575.40,309.50 L576.40,308.40 L577.40,309.50" fill="none" stroke="#161616" stroke-width="0.7"/>
<path d="M554.62,328.44 L569.42,320.24 L567.38,316.56 L552.58,324.76 Z" fill="#fff" stroke="#161616" stroke-width="0.9"/>
<path d="M556.39,327.45 L566.16,322.04 L564.13,318.37 L554.36,323.78 Z" fill="#2a2a2a" stroke="#161616" stroke-width="0.6"/>
<line x1="557.34" y1="326.36" x2="555.78" y2="323.56" fill="none" stroke="#aaa" stroke-width="0.35"/>
<line x1="559.19" y1="325.33" x2="557.63" y2="322.54" fill="none" stroke="#aaa" stroke-width="0.35"/>
<line x1="561.04" y1="324.31" x2="559.48" y2="321.51" fill="none" stroke="#aaa" stroke-width="0.35"/>
<line x1="562.89" y1="323.28" x2="561.33" y2="320.49" fill="none" stroke="#aaa" stroke-width="0.35"/>
<line x1="564.74" y1="322.26" x2="563.18" y2="319.46" fill="none" stroke="#aaa" stroke-width="0.35"/>
<path d="M566.80,322.49 L568.28,321.67 L565.56,316.77 L564.08,317.59 Z" fill="#2a2a2a" stroke="#161616" stroke-width="0.5"/>
<path d="M554.52,328.95 L555.55,328.38 L553.13,324.00 L552.09,324.58 Z" fill="#fff" stroke="#161616" stroke-width="0.9"/>
<path d="M586.40,372.40 L606.10,372.40 A6.50,6.50 0 0 0 612.60,365.90 L612.60,304.30 A6.50,6.50 0 0 1 619.10,297.80 L634.40,297.80" fill="none" stroke="#3c3c3c" stroke-width="1.6"/>
<rect x="584.60" y="370.60" width="2.00" height="3.60" fill="#333" stroke="#161616" stroke-width="0.5"/>
<g transform="translate(639.00,288.40) scale(0.980)">
<rect x="-5.00" y="1.60" width="10.00" height="8.80" rx="0.8" fill="#fff" stroke="#161616" stroke-width="1"/>
<rect x="-3.20" y="0.00" width="5.60" height="1.60" fill="#333" stroke="#161616" stroke-width="0.6"/>
<path d="M5,1.2 L8.4,-0.8 L8.8,2.6 L5,3.8 Z" fill="#222" stroke="#161616" stroke-width="0.6"/>
<rect x="-4.40" y="10.40" width="8.80" height="15.60" fill="#fff" stroke="#161616" stroke-width="1"/>
<line x1="-5.40" y1="13.60" x2="5.40" y2="13.60" fill="none" stroke="#161616" stroke-width="1.1"/>
<line x1="-5.40" y1="15.60" x2="5.40" y2="15.60" fill="none" stroke="#161616" stroke-width="1.1"/>
<line x1="-5.40" y1="18.80" x2="5.40" y2="18.80" fill="none" stroke="#161616" stroke-width="1.1"/>
<line x1="-5.40" y1="20.80" x2="5.40" y2="20.80" fill="none" stroke="#161616" stroke-width="1.1"/>
<line x1="-4.40" y1="24.00" x2="4.40" y2="24.00" fill="none" stroke="#161616" stroke-width="0.8"/>
</g>
<path d="M630,315.6 L647.6,315.6 L642.2,326.8 L635.4,326.8 Z" fill="#fff" stroke="#161616" stroke-width="1"/>
<line x1="633.00" y1="314.60" x2="645.00" y2="314.60" fill="none" stroke="#161616" stroke-width="0.9"/>
<rect x="636.00" y="326.80" width="5.60" height="3.20" fill="#fff" stroke="#161616" stroke-width="0.9"/>
<rect x="635.60" y="327.80" width="7.30" height="5.80" fill="#fff" stroke="#161616" stroke-width="0.9"/>
<path d="M635.6,327.8 L642.9,333.6 M642.9,327.8 L635.6,333.6" fill="none" stroke="#161616" stroke-width="0.7"/>
<line x1="634.80" y1="330.60" x2="643.80" y2="330.60" fill="none" stroke="#161616" stroke-width="1.2"/>
<path d="M633.4,345 L633.4,338 Q633.4,335.4 636.4,334.4 L639.2,333 L642,334.4 Q644.4,335.4 644.4,338 L644.4,345 Z" fill="#fff" stroke="#161616" stroke-width="1.1"/>
<line x1="633.40" y1="339.40" x2="644.40" y2="339.40" fill="none" stroke="#161616" stroke-width="1.2"/>
<rect x="644.40" y="335.40" width="2.80" height="2.20" fill="#333" stroke="#161616" stroke-width="0.5"/>
<rect x="635.20" y="343.60" width="8.20" height="11.40" fill="#fff" stroke="#161616" stroke-width="1.1"/>
<rect x="637.00" y="345.00" width="4.60" height="4.60" rx="0.6" fill="#fff" stroke="#161616" stroke-width="0.9"/>
<rect x="638.40" y="346.00" width="1.80" height="2.60" fill="#333" stroke="#161616" stroke-width="0.3"/>
<rect x="637.00" y="350.80" width="4.60" height="3.20" fill="#fff" stroke="#161616" stroke-width="0.9"/>
<line x1="639.20" y1="350.80" x2="639.20" y2="354.00" fill="none" stroke="#161616" stroke-width="0.7"/>
<line x1="634.40" y1="355.00" x2="645.00" y2="355.00" fill="none" stroke="#161616" stroke-width="1.4"/>
<circle cx="632.00" cy="347.40" r="1.10" fill="#fff" stroke="#161616" stroke-width="0.9"/>
<rect x="631.20" y="348.80" width="1.60" height="32.60" fill="#333" stroke="#161616" stroke-width="0.5"/>
<rect x="647.80" y="344.60" width="7.20" height="10.40" rx="2" fill="#fff" stroke="#161616" stroke-width="1.1"/>
<rect x="650.00" y="342.60" width="2.60" height="2.00" rx="0.6" fill="#fff" stroke="#161616" stroke-width="0.9"/>
<line x1="649.80" y1="346.00" x2="649.80" y2="354.00" fill="none" stroke="#161616" stroke-width="0.7"/>
<line x1="651.20" y1="346.00" x2="651.20" y2="354.00" fill="none" stroke="#161616" stroke-width="0.6"/>
<rect x="644.40" y="343.00" width="1.60" height="9.00" fill="#333" stroke="#161616" stroke-width="0.4"/>
<rect x="643.80" y="352.00" width="9.20" height="3.60" fill="#333" stroke="#161616" stroke-width="0.5"/>
<rect x="646.00" y="355.60" width="2.80" height="25.80" fill="#333" stroke="#161616" stroke-width="0.5"/>
<path d="M646,372 L644.8,381 " fill="none" stroke="#161616" stroke-width="1"/>
<rect x="642.40" y="358.80" width="6.40" height="2.20" fill="#fff" stroke="#161616" stroke-width="0.9"/>
<rect x="648.80" y="359.20" width="9.20" height="1.60" fill="#fff" stroke="#161616" stroke-width="0.8"/>
<rect x="648.80" y="368.80" width="9.20" height="1.80" fill="#fff" stroke="#161616" stroke-width="0.8"/>
<rect x="658.00" y="357.60" width="1.80" height="15.40" fill="#fff" stroke="#161616" stroke-width="0.9"/>
<rect x="631.20" y="378.00" width="17.60" height="3.40" fill="#fff" stroke="#161616" stroke-width="1"/>
<path d="M639.4,375.4 L640,377 L640.8,376.6" fill="none" stroke="#161616" stroke-width="0.6"/>
</g>
<g id="d7">
<text class="n" x="17.70" y="475.50" font-size="25.1" fill="#1a1a1a">7</text>
<line x1="33.00" y1="645.00" x2="163.00" y2="645.00" fill="none" stroke="#161616" stroke-width="1"/>
<line x1="105.80" y1="453.20" x2="151.20" y2="453.20" fill="none" stroke="#161616" stroke-width="1.05"/>
<line x1="109.70" y1="458.10" x2="146.70" y2="458.10" fill="none" stroke="#161616" stroke-width="1.05"/>
<line x1="105.80" y1="453.20" x2="105.80" y2="645.00" fill="none" stroke="#161616" stroke-width="1.05"/>
<line x1="109.70" y1="458.10" x2="109.70" y2="645.00" fill="none" stroke="#161616" stroke-width="1.05"/>
<line x1="146.70" y1="458.10" x2="146.70" y2="645.00" fill="none" stroke="#161616" stroke-width="1.05"/>
<line x1="151.20" y1="453.20" x2="151.20" y2="645.00" fill="none" stroke="#161616" stroke-width="1.05"/>
<line x1="45.40" y1="507.70" x2="45.40" y2="645.00" fill="none" stroke="#161616" stroke-width="1.05"/>
<line x1="50.30" y1="511.50" x2="50.30" y2="645.00" fill="none" stroke="#161616" stroke-width="1.05"/>
<line x1="45.40" y1="507.70" x2="151.20" y2="507.70" fill="none" stroke="#161616" stroke-width="1.05"/>
<line x1="45.40" y1="511.50" x2="151.20" y2="511.50" fill="none" stroke="#161616" stroke-width="1.05"/>
<line x1="50.30" y1="519.40" x2="105.80" y2="519.40" fill="none" stroke="#161616" stroke-width="0.9"/>
<line x1="50.30" y1="522.10" x2="105.80" y2="522.10" fill="none" stroke="#161616" stroke-width="0.9"/>
<line x1="50.30" y1="584.50" x2="146.70" y2="584.50" fill="none" stroke="#161616" stroke-width="1.05"/>
<line x1="50.30" y1="589.20" x2="146.70" y2="589.20" fill="none" stroke="#161616" stroke-width="1.05"/>
<line x1="45.40" y1="487.70" x2="61.00" y2="487.70" fill="none" stroke="#555" stroke-width="0.8" stroke-dasharray="6 0.8"/>
<line x1="45.40" y1="494.47" x2="61.00" y2="494.47" fill="none" stroke="#555" stroke-width="0.8" stroke-dasharray="6 0.8"/>
<line x1="45.40" y1="501.23" x2="61.00" y2="501.23" fill="none" stroke="#555" stroke-width="0.8" stroke-dasharray="6 0.8"/>
<line x1="45.40" y1="487.70" x2="45.40" y2="508.00" fill="none" stroke="#555" stroke-width="0.8"/>
<line x1="50.30" y1="564.10" x2="66.60" y2="564.10" fill="none" stroke="#3a3a3a" stroke-width="0.8" stroke-dasharray="4.6 0.9"/>
<line x1="50.30" y1="570.87" x2="66.60" y2="570.87" fill="none" stroke="#3a3a3a" stroke-width="0.8" stroke-dasharray="4.6 0.9"/>
<line x1="50.30" y1="577.63" x2="66.60" y2="577.63" fill="none" stroke="#3a3a3a" stroke-width="0.8" stroke-dasharray="4.6 0.9"/>
<line x1="64.40" y1="564.10" x2="64.40" y2="584.40" fill="none" stroke="#3a3a3a" stroke-width="0.8"/>
<line x1="114.90" y1="564.10" x2="145.70" y2="564.10" fill="none" stroke="#3a3a3a" stroke-width="0.8" stroke-dasharray="4.6 0.9"/>
<line x1="114.90" y1="570.87" x2="145.70" y2="570.87" fill="none" stroke="#3a3a3a" stroke-width="0.8" stroke-dasharray="4.6 0.9"/>
<line x1="114.90" y1="577.63" x2="145.70" y2="577.63" fill="none" stroke="#3a3a3a" stroke-width="0.8" stroke-dasharray="4.6 0.9"/>
<line x1="122.40" y1="564.10" x2="122.40" y2="584.40" fill="none" stroke="#3a3a3a" stroke-width="0.8"/>
<line x1="141.40" y1="564.10" x2="141.40" y2="584.40" fill="none" stroke="#3a3a3a" stroke-width="0.8"/>
<g transform="translate(123.90,455.00) scale(0.86)">
<rect x="-4.20" y="0.00" width="8.40" height="6.40" rx="1" fill="#222" stroke="#161616" stroke-width="0.8"/>
<rect x="-8.60" y="6.20" width="17.20" height="6.40" rx="1.4" fill="#222" stroke="#161616" stroke-width="0.8"/>
<rect x="-8.00" y="7.60" width="1.40" height="3.80" fill="#fff" stroke="#161616" stroke-width="0.4"/>
<rect x="6.60" y="7.60" width="1.40" height="3.80" fill="#fff" stroke="#161616" stroke-width="0.4"/>
<circle cx="0.00" cy="3.60" r="1.30" fill="#fff" stroke="#161616" stroke-width="0.5"/>
<circle cx="-2.60" cy="8.00" r="0.80" fill="#fff" stroke="#161616" stroke-width="0.3"/>
<circle cx="2.60" cy="8.00" r="0.80" fill="#fff" stroke="#161616" stroke-width="0.3"/>
<circle cx="5.20" cy="10.00" r="0.80" fill="#fff" stroke="#161616" stroke-width="0.3"/>
</g>
<line x1="124.10" y1="466.00" x2="124.10" y2="475.00" fill="none" stroke="#161616" stroke-width="1.2"/>
<path d="M110.20,483.40 L124.10,474.80 L139.40,483.40" fill="none" stroke="#161616" stroke-width="0.9"/>
<rect x="109.40" y="482.70" width="30.60" height="22.30" fill="#fff" stroke="#161616" stroke-width="1"/>
<line x1="109.40" y1="502.80" x2="140.00" y2="502.80" fill="none" stroke="#161616" stroke-width="0.8"/>
<line x1="111.00" y1="482.70" x2="111.00" y2="503.00" fill="none" stroke="#161616" stroke-width="0.7"/>
<line x1="137.40" y1="482.70" x2="137.40" y2="503.00" fill="none" stroke="#161616" stroke-width="0.7"/>
<ellipse cx="119.75" cy="492.93" rx="4.75" ry="2.08" fill="none" stroke="#161616" stroke-width="0.8"/>
<ellipse cx="119.75" cy="496.80" rx="4.75" ry="2.08" fill="none" stroke="#161616" stroke-width="0.8"/>
<ellipse cx="119.75" cy="500.67" rx="4.75" ry="2.08" fill="none" stroke="#161616" stroke-width="0.8"/>
<ellipse cx="129.65" cy="492.93" rx="4.75" ry="2.08" fill="none" stroke="#161616" stroke-width="0.8"/>
<ellipse cx="129.65" cy="496.80" rx="4.75" ry="2.08" fill="none" stroke="#161616" stroke-width="0.8"/>
<ellipse cx="129.65" cy="500.67" rx="4.75" ry="2.08" fill="none" stroke="#161616" stroke-width="0.8"/>
<line x1="104.40" y1="487.90" x2="145.90" y2="487.90" fill="none" stroke="#999" stroke-width="0.6" stroke-dasharray="4.6 0.9"/>
<line x1="104.40" y1="494.40" x2="145.90" y2="494.40" fill="none" stroke="#999" stroke-width="0.6" stroke-dasharray="4.6 0.9"/>
<line x1="104.40" y1="500.90" x2="145.90" y2="500.90" fill="none" stroke="#999" stroke-width="0.6" stroke-dasharray="4.6 0.9"/>
<line x1="114.60" y1="487.90" x2="114.60" y2="507.40" fill="none" stroke="#999" stroke-width="0.6"/>
<line x1="141.40" y1="487.90" x2="141.40" y2="507.40" fill="none" stroke="#999" stroke-width="0.6"/>
<path d="M64.6,487.6 L66.4,491.6 L69.5,495 L69.5,507.4" fill="none" stroke="#161616" stroke-width="1"/>
<path d="M65,483.4 Q69,481.6 75,482.8 L82,494.2 L82,495" fill="none" stroke="#161616" stroke-width="1.1"/>
<rect x="69.00" y="485.60" width="6.00" height="9.40" fill="#2a2a2a" stroke="#161616" stroke-width="0.7"/>
<line x1="71.00" y1="486.00" x2="71.00" y2="494.60" fill="none" stroke="#ccc" stroke-width="0.5"/>
<line x1="73.00" y1="486.00" x2="73.00" y2="494.60" fill="none" stroke="#ccc" stroke-width="0.5"/>
<rect x="62.40" y="484.00" width="4.20" height="4.00" rx="0.8" fill="#2a2a2a" stroke="#161616" stroke-width="0.7"/>
<path d="M69,495 L87.6,495 L86.6,496.8 L69,496.8 Z" fill="#fff" stroke="#161616" stroke-width="1"/>
<path d="M70.4,496.8 Q71,504.6 76,504.6 Q81,504.6 81.6,496.8" fill="none" stroke="#161616" stroke-width="1"/>
<line x1="81.60" y1="496.80" x2="81.60" y2="507.40" fill="none" stroke="#161616" stroke-width="1"/>
<path d="M75,487 L80.4,495" fill="none" stroke="#161616" stroke-width="0.8"/>
<line x1="68.60" y1="507.20" x2="83.00" y2="507.20" fill="none" stroke="#161616" stroke-width="1.3"/>
<g transform="translate(97.00,508.00) scale(0.923,0.923)">
<path d="M-3.6,-20.6 L-3.4,-1.6 L-3.7,-0.2 L0.6,-0.2 L-0.4,-1.8 L-0.2,-19 M-0.2,-16 L0.2,-2 L0,-0.2 L4.7,-0.2 L2.4,-2.2 L3.2,-20.6" fill="#fff" stroke="#2a2a2a" stroke-width="1.02917"/>
<path d="M-1.4,-32.2 Q-3.9,-31 -3.8,-27 L-3.6,-20.4 L3.2,-20.4 L3.7,-26 Q3.9,-30.4 2.4,-32.2 Z" fill="#fff" stroke="#2a2a2a" stroke-width="1.02917"/>
<path d="M0.2,-30.4 L0.8,-24.6 L5.2,-20.6 L6.2,-21.8 L3,-25.4 L2.6,-29" fill="#fff" stroke="#2a2a2a" stroke-width="1.02917"/>
<path d="M-1.8,-35.2 L-1.6,-32.8 Q0.6,-31.4 3,-32.6 L3.8,-35.2 Z" fill="#fff" stroke="#2a2a2a" stroke-width="1.02917"/>
<path d="M-2.6,-35 Q-2.8,-39 1,-39 Q4.3,-39 4.4,-35.6 L5.2,-35 Z" fill="#fff" stroke="#2a2a2a" stroke-width="1.02917"/>
</g>
<rect x="68.60" y="508.60" width="28.80" height="10.70" rx="1" fill="#fff" stroke="#161616" stroke-width="1.05"/>
<path d="M68.60,514.00 L65.40,518.40 L68.60,518.40" fill="none" stroke="#161616" stroke-width="0.8"/>
<path d="M97.40,514.00 L100.40,518.40 L97.40,518.40" fill="none" stroke="#161616" stroke-width="0.8"/>
<path d="M69.60,519.30 L80.60,542.40 L87.80,542.40 L96.60,519.30" fill="#fff" stroke="#161616" stroke-width="1"/>
<rect x="77.40" y="522.20" width="12.40" height="7.80" rx="1" fill="#fff" stroke="#161616" stroke-width="1.1"/>
<rect x="78.80" y="523.60" width="9.60" height="5.00" fill="none" stroke="#161616" stroke-width="0.7"/>
<rect x="80.20" y="542.40" width="8.00" height="1.60" fill="#fff" stroke="#161616" stroke-width="0.8"/>
<path d="M70.6,584.4 L70.6,559.4 Q70.6,556.4 73.6,556.4 L91.6,556.4 Q94.6,556.4 94.6,559.4 L94.6,584.4" fill="#fff" stroke="#161616" stroke-width="1"/>
<rect x="79.80" y="552.20" width="7.10" height="4.20" rx="1" fill="#fff" stroke="#161616" stroke-width="0.9"/>
<circle cx="83.00" cy="568.80" r="11.60" fill="#fff" stroke="#161616" stroke-width="1.1"/>
<path d="M72,562 L75,557.6 M93.2,562 L90.2,557.6" fill="none" stroke="#161616" stroke-width="0.8"/>
<line x1="75.60" y1="577.40" x2="75.60" y2="584.40" fill="none" stroke="#161616" stroke-width="0.9"/>
<line x1="90.40" y1="577.40" x2="90.40" y2="584.40" fill="none" stroke="#161616" stroke-width="0.9"/>
<rect x="79.20" y="562.80" width="8.80" height="9.00" fill="#fff" stroke="#161616" stroke-width="1.2"/>
<rect x="80.40" y="564.00" width="6.40" height="6.60" fill="#222" stroke="#161616" stroke-width="0.5"/>
<circle cx="83.60" cy="567.20" r="1.70" fill="#fff" stroke="#161616" stroke-width="0.4"/>
<rect x="88.00" y="564.00" width="3.00" height="6.40" fill="#222" stroke="#161616" stroke-width="0.6"/>
<rect x="91.00" y="562.80" width="10.60" height="8.60" rx="1.4" fill="#fff" stroke="#161616" stroke-width="1.1"/>
<rect x="92.40" y="564.20" width="5.20" height="5.80" rx="1" fill="none" stroke="#161616" stroke-width="0.8"/>
<line x1="92.40" y1="566.00" x2="97.60" y2="566.00" fill="none" stroke="#161616" stroke-width="0.6"/>
<line x1="92.40" y1="568.20" x2="97.60" y2="568.20" fill="none" stroke="#161616" stroke-width="0.6"/>
<rect x="101.60" y="563.60" width="2.60" height="7.00" rx="0.8" fill="#fff" stroke="#161616" stroke-width="1"/>
<path d="M63.87,580.80 L76.17,572.30 L74.23,569.50 L61.93,578.00 Z" fill="#fff" stroke="#161616" stroke-width="0.9"/>
<path d="M65.34,579.78 L73.46,574.17 L71.53,571.37 L63.41,576.98 Z" fill="#2a2a2a" stroke="#161616" stroke-width="0.6"/>
<line x1="66.04" y1="578.69" x2="64.68" y2="576.71" fill="none" stroke="#aaa" stroke-width="0.35"/>
<line x1="67.58" y1="577.62" x2="66.22" y2="575.65" fill="none" stroke="#aaa" stroke-width="0.35"/>
<line x1="69.12" y1="576.56" x2="67.75" y2="574.59" fill="none" stroke="#aaa" stroke-width="0.35"/>
<line x1="70.65" y1="575.50" x2="69.29" y2="573.53" fill="none" stroke="#aaa" stroke-width="0.35"/>
<line x1="72.19" y1="574.44" x2="70.83" y2="572.46" fill="none" stroke="#aaa" stroke-width="0.35"/>
<path d="M74.10,574.57 L75.33,573.72 L72.61,569.78 L71.38,570.63 Z" fill="#2a2a2a" stroke="#161616" stroke-width="0.5"/>
<path d="M63.85,581.30 L64.71,580.70 L62.32,577.25 L61.46,577.84 Z" fill="#fff" stroke="#161616" stroke-width="0.9"/>
<path d="M66.8,584.4 L66.8,594 Q66.8,596 68.6,596.4 L80.6,616.2 L86.9,616.2 L97.6,596.4 Q99.4,596 99.4,594 L99.4,584.4" fill="none" stroke="#161616" stroke-width="1"/>
<line x1="68.40" y1="596.20" x2="97.80" y2="596.20" fill="none" stroke="#161616" stroke-width="0.7"/>
<rect x="80.20" y="616.20" width="7.00" height="2.40" fill="#fff" stroke="#161616" stroke-width="0.9"/>
<rect x="79.40" y="618.60" width="8.60" height="2.20" fill="#333" stroke="#161616" stroke-width="0.6"/>
<rect x="78.20" y="619.60" width="20.30" height="23.80" rx="1" fill="#fff" stroke="#161616" stroke-width="1"/>
<rect x="80.60" y="623.80" width="9.80" height="9.60" fill="#fff" stroke="#161616" stroke-width="0.9"/>
<rect x="80.60" y="628.40" width="9.80" height="5.00" fill="none" stroke="#161616" stroke-width="0.7"/>
<rect x="70.60" y="624.00" width="7.60" height="14.40" fill="#fff" stroke="#161616" stroke-width="0.9"/>
<rect x="73.40" y="621.00" width="1.60" height="3.00" fill="#333" stroke="#161616" stroke-width="0.5"/>
<rect x="76.00" y="620.60" width="1.40" height="3.40" fill="#333" stroke="#161616" stroke-width="0.5"/>
<line x1="67.00" y1="638.80" x2="78.20" y2="638.80" fill="none" stroke="#161616" stroke-width="1.6"/>
<line x1="77.00" y1="643.80" x2="99.60" y2="643.80" fill="none" stroke="#161616" stroke-width="1"/>
</g>
<g id="d8">
<text class="n" x="221.90" y="475.60" font-size="25.1" fill="#1a1a1a">8</text>
<path d="M216.50,645.20 L234.10,645.20 L234.10,678.60 L281.50,678.60 L281.50,645.20 L334.60,645.20" fill="none" stroke="#161616" stroke-width="1"/>
<line x1="227.10" y1="552.60" x2="251.40" y2="552.60" fill="none" stroke="#3a3a3a" stroke-width="0.8" stroke-dasharray="4.6 0.9"/>
<line x1="227.10" y1="559.93" x2="251.40" y2="559.93" fill="none" stroke="#3a3a3a" stroke-width="0.8" stroke-dasharray="4.6 0.9"/>
<line x1="227.10" y1="567.27" x2="251.40" y2="567.27" fill="none" stroke="#3a3a3a" stroke-width="0.8" stroke-dasharray="4.6 0.9"/>
<line x1="227.10" y1="552.60" x2="227.10" y2="574.60" fill="none" stroke="#3a3a3a" stroke-width="0.8"/>
<line x1="251.40" y1="552.60" x2="251.40" y2="574.60" fill="none" stroke="#3a3a3a" stroke-width="0.8"/>
<line x1="308.00" y1="552.60" x2="320.40" y2="552.60" fill="none" stroke="#3a3a3a" stroke-width="0.8" stroke-dasharray="4.6 0.9"/>
<line x1="308.00" y1="559.93" x2="320.40" y2="559.93" fill="none" stroke="#3a3a3a" stroke-width="0.8" stroke-dasharray="4.6 0.9"/>
<line x1="308.00" y1="567.27" x2="320.40" y2="567.27" fill="none" stroke="#3a3a3a" stroke-width="0.8" stroke-dasharray="4.6 0.9"/>
<line x1="320.40" y1="552.60" x2="320.40" y2="574.60" fill="none" stroke="#3a3a3a" stroke-width="0.8"/>
<line x1="227.10" y1="574.70" x2="320.50" y2="574.70" fill="none" stroke="#161616" stroke-width="1.05"/>
<line x1="227.10" y1="578.50" x2="320.50" y2="578.50" fill="none" stroke="#161616" stroke-width="1.05"/>
<line x1="227.10" y1="574.70" x2="227.10" y2="578.50" fill="none" stroke="#161616" stroke-width="1.05"/>
<line x1="244.40" y1="578.50" x2="244.40" y2="645.20" fill="none" stroke="#161616" stroke-width="1.05"/>
<line x1="249.00" y1="578.50" x2="249.00" y2="645.20" fill="none" stroke="#161616" stroke-width="1.05"/>
<line x1="315.80" y1="578.50" x2="315.80" y2="645.20" fill="none" stroke="#161616" stroke-width="1.05"/>
<line x1="320.50" y1="574.70" x2="320.50" y2="645.20" fill="none" stroke="#161616" stroke-width="1.05"/>
<path d="M228.60,578.50 L244.40,596.40" fill="none" stroke="#161616" stroke-width="1.05"/>
<path d="M232.40,578.50 L244.40,592.00" fill="none" stroke="#161616" stroke-width="0.9"/>
<path d="M310.00,578.50 L315.80,585.40" fill="none" stroke="#161616" stroke-width="0.9"/>
<path d="M276.6,578.5 L276.6,589.5 L288.9,608 L294.6,608 L307.5,589.5 L307.5,578.5" fill="#fff" stroke="#161616" stroke-width="1"/>
<line x1="276.60" y1="589.50" x2="307.50" y2="589.50" fill="none" stroke="#161616" stroke-width="0.7"/>
<rect x="254.80" y="516.50" width="18.50" height="131.90" fill="#fff" stroke="#161616" stroke-width="1"/>
<line x1="254.20" y1="516.50" x2="274.00" y2="516.50" fill="none" stroke="#161616" stroke-width="1.8"/>
<line x1="254.20" y1="549.20" x2="274.00" y2="549.20" fill="none" stroke="#161616" stroke-width="1.8"/>
<line x1="254.20" y1="582.60" x2="274.00" y2="582.60" fill="none" stroke="#161616" stroke-width="1.8"/>
<line x1="254.20" y1="615.60" x2="274.00" y2="615.60" fill="none" stroke="#161616" stroke-width="1.8"/>
<line x1="256.60" y1="516.50" x2="256.60" y2="648.00" fill="none" stroke="#888" stroke-width="0.5"/>
<line x1="271.60" y1="516.50" x2="271.60" y2="648.00" fill="none" stroke="#888" stroke-width="0.5"/>
<path d="M249.00,603.60 L270.40,580.00" fill="none" stroke="#161616" stroke-width="1.05"/>
<path d="M249.00,599.20 L267.00,579.00" fill="none" stroke="#161616" stroke-width="0.9"/>
<path d="M294.40,578.50 L315.80,604.60" fill="none" stroke="#161616" stroke-width="1.05"/>
<path d="M298.20,578.50 L315.80,600.00" fill="none" stroke="#161616" stroke-width="0.9"/>
<path d="M254.8,516.5 L254.8,494 L259.2,488.6 L274.8,488.6 L278.6,494 L278.6,500 L273.3,507.6 L273.3,516.5" fill="#fff" stroke="#161616" stroke-width="1"/>
<line x1="254.20" y1="500.00" x2="279.00" y2="500.00" fill="none" stroke="#161616" stroke-width="1.8"/>
<line x1="254.20" y1="516.50" x2="274.00" y2="516.50" fill="none" stroke="#161616" stroke-width="1.8"/>
<line x1="254.80" y1="574.70" x2="273.30" y2="574.70" fill="none" stroke="#161616" stroke-width="0.8"/>
<line x1="254.80" y1="578.50" x2="273.30" y2="578.50" fill="none" stroke="#161616" stroke-width="0.8"/>
<line x1="261.60" y1="500.00" x2="261.60" y2="516.50" fill="none" stroke="#161616" stroke-width="0.9"/>
<line x1="265.60" y1="500.00" x2="265.60" y2="516.50" fill="none" stroke="#161616" stroke-width="0.9"/>
<rect x="263.40" y="497.40" width="1.40" height="2.60" fill="#333" stroke="#161616" stroke-width="0.5"/>
<circle cx="249.10" cy="498.80" r="2.40" fill="#fff" stroke="#161616" stroke-width="1.1"/>
<circle cx="249.10" cy="498.80" r="1.00" fill="none" stroke="#161616" stroke-width="0.8"/>
<path d="M244.6,502 L254.8,502 M244.6,502 L245.6,504.4 L252.6,515.6 L254.8,516.5 M247,503.4 L254.8,503.4" fill="none" stroke="#161616" stroke-width="1"/>
<path d="M274.60,507.00 L292.60,533.20" fill="none" stroke="#161616" stroke-width="1"/>
<path d="M272.80,509.00 L288.00,533.20" fill="none" stroke="#161616" stroke-width="1"/>
<path d="M278.60,500.00 L274.60,507.00" fill="none" stroke="#161616" stroke-width="1"/>
<rect x="275.40" y="537.00" width="33.30" height="37.90" rx="1.6" fill="#fff" stroke="#161616" stroke-width="1.05"/>
<path d="M276.80,541.80 L280.60,538.30" fill="none" stroke="#161616" stroke-width="0.8"/>
<path d="M307.30,541.80 L303.50,538.30" fill="none" stroke="#161616" stroke-width="0.8"/>
<circle cx="278.60" cy="539.60" r="0.50" fill="#222" stroke="#161616" stroke-width="0.3"/>
<circle cx="305.60" cy="539.60" r="0.50" fill="#222" stroke="#161616" stroke-width="0.3"/>
<rect x="286.00" y="533.60" width="12.00" height="3.40" fill="#fff" stroke="#161616" stroke-width="0.9"/>
<line x1="285.60" y1="533.60" x2="298.40" y2="533.60" fill="none" stroke="#161616" stroke-width="1.5"/>
<circle cx="292.40" cy="552.00" r="15.20" fill="#fff" stroke="#161616" stroke-width="1.2"/>
<path d="M279.8,545.6 A14,14 0 0 0 284,563" fill="none" stroke="#161616" stroke-width="0.6"/>
<rect x="285.10" y="567.40" width="14.20" height="7.50" fill="#fff" stroke="#161616" stroke-width="1"/>
<line x1="287.60" y1="568.20" x2="287.60" y2="574.90" fill="none" stroke="#161616" stroke-width="0.7"/>
<line x1="296.80" y1="568.20" x2="296.80" y2="574.90" fill="none" stroke="#161616" stroke-width="0.7"/>
<rect x="284.30" y="554.10" width="15.80" height="13.30" fill="#fff" stroke="#161616" stroke-width="1.1"/>
<line x1="284.30" y1="554.50" x2="300.10" y2="554.50" fill="none" stroke="#161616" stroke-width="1.6"/>
<rect x="288.60" y="549.00" width="6.80" height="5.10" rx="0.8" fill="#fff" stroke="#161616" stroke-width="1.1"/>
<rect x="290.40" y="550.00" width="3.20" height="3.00" fill="#fff" stroke="#161616" stroke-width="0.8"/>
<path d="M319.11,564.13 L303.11,555.43 L301.29,558.77 L317.29,567.47 Z" fill="#fff" stroke="#161616" stroke-width="0.9"/>
<path d="M317.19,563.09 L306.63,557.34 L304.81,560.68 L315.37,566.43 Z" fill="#2a2a2a" stroke="#161616" stroke-width="0.6"/>
<line x1="315.67" y1="562.83" x2="314.33" y2="565.29" fill="none" stroke="#aaa" stroke-width="0.35"/>
<line x1="313.67" y1="561.74" x2="312.33" y2="564.20" fill="none" stroke="#aaa" stroke-width="0.35"/>
<line x1="311.67" y1="560.66" x2="310.33" y2="563.11" fill="none" stroke="#aaa" stroke-width="0.35"/>
<line x1="309.67" y1="559.57" x2="308.33" y2="562.03" fill="none" stroke="#aaa" stroke-width="0.35"/>
<line x1="307.67" y1="558.48" x2="306.33" y2="560.94" fill="none" stroke="#aaa" stroke-width="0.35"/>
<path d="M306.64,556.56 L305.04,555.69 L302.56,560.25 L304.16,561.12 Z" fill="#2a2a2a" stroke="#161616" stroke-width="0.5"/>
<path d="M319.62,563.95 L318.50,563.34 L316.30,567.39 L317.42,567.99 Z" fill="#fff" stroke="#161616" stroke-width="0.9"/>
<path d="M246.2,613.6 L249.6,613.6 L252.6,621 L235.2,621 Z" fill="#fff" stroke="#161616" stroke-width="0.9"/>
<path d="M235.2,621 L235.6,628 L237,631.6" fill="none" stroke="#161616" stroke-width="0.9"/>
<path d="M234.1,643.4 L254,643.4 M237.6,645.4 L248.4,659.4 L248.4,663 L254.6,667 M240.6,645.4 L254.4,645.4" fill="none" stroke="#161616" stroke-width="0.9"/>
<rect x="255.40" y="648.40" width="17.40" height="28.20" fill="#fff" stroke="#161616" stroke-width="1"/>
<line x1="254.20" y1="648.60" x2="274.00" y2="648.60" fill="none" stroke="#161616" stroke-width="1.6"/>
<rect x="259.00" y="650.40" width="10.40" height="25.60" fill="#333" stroke="#161616" stroke-width="0.5"/>
<rect x="261.40" y="652.40" width="5.60" height="5.00" fill="#fff" stroke="#161616" stroke-width="0.4"/>
<rect x="261.40" y="660.40" width="5.60" height="5.00" fill="#fff" stroke="#161616" stroke-width="0.4"/>
<rect x="261.40" y="668.40" width="5.60" height="6.00" fill="#fff" stroke="#161616" stroke-width="0.4"/>
<line x1="256.80" y1="650.00" x2="256.80" y2="676.60" fill="none" stroke="#161616" stroke-width="0.6"/>
<line x1="271.40" y1="650.00" x2="271.40" y2="676.60" fill="none" stroke="#161616" stroke-width="0.6"/>
<rect x="251.00" y="676.60" width="26.80" height="2.00" fill="#fff" stroke="#161616" stroke-width="0.9"/>
<g transform="translate(292.00,608.20) scale(-1.000,1.015)">
<rect x="-3.40" y="0.00" width="7.00" height="1.40" fill="#333" stroke="#161616" stroke-width="0.6"/>
<rect x="-4.80" y="1.20" width="9.80" height="2.20" rx="1" fill="#333" stroke="#161616" stroke-width="0.7"/>
<circle cx="0.20" cy="2.30" r="0.90" fill="#ccc" stroke="#161616" stroke-width="0.3"/>
<rect x="-3.60" y="3.40" width="7.20" height="1.60" fill="#fff" stroke="#161616" stroke-width="0.9"/>
<rect x="-3.80" y="5.00" width="7.40" height="14.60" fill="#fff" stroke="#161616" stroke-width="1.1"/>
<rect x="-2.20" y="6.40" width="4.20" height="5.00" rx="0.8" fill="#fff" stroke="#161616" stroke-width="0.9"/>
<rect x="-2.20" y="12.80" width="4.20" height="5.40" fill="#fff" stroke="#161616" stroke-width="0.9"/>
<line x1="-0.20" y1="12.80" x2="-0.20" y2="18.20" fill="none" stroke="#161616" stroke-width="0.7"/>
<line x1="-3.80" y1="12.00" x2="3.60" y2="12.00" fill="none" stroke="#161616" stroke-width="1.2"/>
<line x1="-4.60" y1="19.80" x2="4.40" y2="19.80" fill="none" stroke="#161616" stroke-width="1.4"/>
<circle cx="5.80" cy="7.00" r="0.90" fill="#222" stroke="#161616" stroke-width="0.5"/>
<circle cx="6.40" cy="10.60" r="1.20" fill="#fff" stroke="#161616" stroke-width="0.9"/>
<rect x="5.40" y="11.60" width="1.80" height="24.60" fill="#333" stroke="#161616" stroke-width="0.5"/>
<rect x="-7.00" y="6.40" width="1.40" height="11.60" fill="#333" stroke="#161616" stroke-width="0.5"/>
<rect x="-8.40" y="12.00" width="4.00" height="1.20" fill="#333" stroke="#161616" stroke-width="0.4"/>
<rect x="-16.60" y="8.00" width="7.60" height="11.40" rx="2" fill="#fff" stroke="#161616" stroke-width="1.1"/>
<rect x="-13.60" y="5.80" width="2.80" height="2.20" rx="0.6" fill="#fff" stroke="#161616" stroke-width="0.9"/>
<line x1="-11.00" y1="9.40" x2="-11.00" y2="18.00" fill="none" stroke="#161616" stroke-width="0.8"/>
<line x1="-12.60" y1="9.40" x2="-12.60" y2="18.00" fill="none" stroke="#161616" stroke-width="0.6"/>
<rect x="-10.40" y="14.00" width="2.00" height="4.40" fill="#333" stroke="#161616" stroke-width="0.4"/>
<rect x="-14.20" y="17.60" width="10.40" height="3.30" fill="#333" stroke="#161616" stroke-width="0.6"/>
<line x1="-13.40" y1="19.20" x2="-5.00" y2="19.20" fill="none" stroke="#ccc" stroke-width="0.5"/>
<rect x="-10.00" y="20.90" width="1.60" height="15.30" fill="#333" stroke="#161616" stroke-width="0.4"/>
<rect x="-9.60" y="33.60" width="16.80" height="2.60" fill="#fff" stroke="#161616" stroke-width="1"/>
<line x1="-10.00" y1="33.40" x2="7.40" y2="33.40" fill="none" stroke="#161616" stroke-width="1.3"/>
<path d="M-10,35.8 L-16,35.8 Q-16.8,34 -14.6,33.4 L-10,33.4" fill="none" stroke="#161616" stroke-width="0.9"/>
<path d="M-1.2,30.4 L-0.6,32 L0.2,31.6" fill="none" stroke="#161616" stroke-width="0.6"/>
</g>
</g>
<g id="d9">
<text class="n" x="379.60" y="475.60" font-size="25.1" fill="#1a1a1a">9</text>
<line x1="364.60" y1="645.00" x2="534.00" y2="645.00" fill="none" stroke="#161616" stroke-width="1"/>
<ellipse cx="384.60" cy="632.10" rx="5.20" ry="2.25" fill="none" stroke="#161616" stroke-width="0.8"/>
<ellipse cx="384.60" cy="636.30" rx="5.20" ry="2.25" fill="none" stroke="#161616" stroke-width="0.8"/>
<ellipse cx="384.60" cy="640.50" rx="5.20" ry="2.25" fill="none" stroke="#161616" stroke-width="0.8"/>
<ellipse cx="395.40" cy="632.10" rx="5.20" ry="2.25" fill="none" stroke="#161616" stroke-width="0.8"/>
<ellipse cx="395.40" cy="636.30" rx="5.20" ry="2.25" fill="none" stroke="#161616" stroke-width="0.8"/>
<ellipse cx="395.40" cy="640.50" rx="5.20" ry="2.25" fill="none" stroke="#161616" stroke-width="0.8"/>
<rect x="377.40" y="642.80" width="25.20" height="1.90" fill="#444" stroke="#161616" stroke-width="0.7"/>
<g transform="translate(409.60,644.60) scale(0.990,0.990)">
<path d="M-3.6,-20.6 L-3.4,-1.6 L-3.7,-0.2 L0.6,-0.2 L-0.4,-1.8 L-0.2,-19 M-0.2,-16 L0.2,-2 L0,-0.2 L4.7,-0.2 L2.4,-2.2 L3.2,-20.6" fill="#fff" stroke="#2a2a2a" stroke-width="0.959845"/>
<path d="M-1.4,-32.2 Q-3.9,-31 -3.8,-27 L-3.6,-20.4 L3.2,-20.4 L3.7,-26 Q3.9,-30.4 2.4,-32.2 Z" fill="#fff" stroke="#2a2a2a" stroke-width="0.959845"/>
<path d="M0.2,-30.4 L0.8,-24.6 L5.2,-20.6 L6.2,-21.8 L3,-25.4 L2.6,-29" fill="#fff" stroke="#2a2a2a" stroke-width="0.959845"/>
<path d="M-1.8,-35.2 L-1.6,-32.8 Q0.6,-31.4 3,-32.6 L3.8,-35.2 Z" fill="#fff" stroke="#2a2a2a" stroke-width="0.959845"/>
<path d="M-2.6,-35 Q-2.8,-39 1,-39 Q4.3,-39 4.4,-35.6 L5.2,-35 Z" fill="#fff" stroke="#2a2a2a" stroke-width="0.959845"/>
</g>
<rect x="414.60" y="627.60" width="16.00" height="1.40" fill="#fff" stroke="#161616" stroke-width="0.9"/>
<path d="M415.4,629 L415.4,644.6 M429.8,629 L429.8,644.6" fill="none" stroke="#161616" stroke-width="1"/>
<path d="M416.4,629 L421,641 L424.8,641 L429,629" fill="none" stroke="#161616" stroke-width="1"/>
<line x1="420.00" y1="643.00" x2="431.00" y2="643.00" fill="none" stroke="#161616" stroke-width="0.9"/>
<path d="M430.60,642.80 L435.30,642.80 A4.70,4.70 0 0 0 440.00,638.10 L440.00,535.20 A7.40,7.40 0 0 1 447.40,527.80 L493.00,527.80" fill="none" stroke="#3c3c3c" stroke-width="2.1"/>
<path d="M430.60,642.80 L435.30,642.80 A4.70,4.70 0 0 0 440.00,638.10 L440.00,535.20 A7.40,7.40 0 0 1 447.40,527.80 L493.00,527.80" fill="none" stroke="#8a8a8a" stroke-width="0.65"/>
<path d="M418.60,533.00 L418.60,525.60 A7.40,7.40 0 0 1 426.00,518.20 L496.00,518.20" fill="none" stroke="#3c3c3c" stroke-width="2.1"/>
<path d="M418.60,533.00 L418.60,525.60 A7.40,7.40 0 0 1 426.00,518.20 L496.00,518.20" fill="none" stroke="#8a8a8a" stroke-width="0.65"/>
<g transform="translate(416.40,559.40) scale(0.960)">
<rect x="-6.20" y="-8.00" width="16.60" height="5.20" fill="#fff" stroke="#161616" stroke-width="1"/>
<line x1="-6.20" y1="-6.40" x2="10.40" y2="-6.40" fill="none" stroke="#161616" stroke-width="0.7"/>
<rect x="-6.80" y="-3.20" width="17.80" height="2.60" fill="#fff" stroke="#161616" stroke-width="0.9"/>
<line x1="-7.40" y1="-0.50" x2="11.60" y2="-0.50" fill="none" stroke="#161616" stroke-width="1.3"/>
<rect x="-6.40" y="-14.20" width="17.20" height="6.20" rx="1" fill="#fff" stroke="#161616" stroke-width="1"/>
<circle cx="-2.20" cy="-10.90" r="2.70" fill="#fff" stroke="#161616" stroke-width="1.1"/>
<circle cx="-2.20" cy="-10.90" r="1.10" fill="#333" stroke="#161616" stroke-width="0.5"/>
<circle cx="5.30" cy="-10.90" r="2.70" fill="#fff" stroke="#161616" stroke-width="1.1"/>
<circle cx="5.30" cy="-10.90" r="1.10" fill="#333" stroke="#161616" stroke-width="0.5"/>
<rect x="-6.40" y="-15.00" width="17.20" height="1.60" fill="#333" stroke="#161616" stroke-width="0.6"/>
<rect x="-8.50" y="-25.70" width="13.20" height="10.50" rx="2.6" fill="#fff" stroke="#161616" stroke-width="1.1"/>
<line x1="-6.00" y1="-23.00" x2="4.50" y2="-23.00" fill="none" stroke="#161616" stroke-width="0.6"/>
<line x1="-6.00" y1="-21.00" x2="4.50" y2="-21.00" fill="none" stroke="#161616" stroke-width="0.6"/>
<line x1="-6.00" y1="-19.00" x2="4.50" y2="-19.00" fill="none" stroke="#161616" stroke-width="0.6"/>
<line x1="-6.20" y1="-24.60" x2="-6.20" y2="-16.40" fill="none" stroke="#161616" stroke-width="0.8"/>
<rect x="-3.90" y="-28.00" width="4.00" height="2.30" fill="#333" stroke="#161616" stroke-width="0.6"/>
<rect x="4.70" y="-23.00" width="2.80" height="7.00" fill="#fff" stroke="#161616" stroke-width="0.9"/>
</g>
<g transform="translate(497.40,519.20) scale(0.960)">
<rect x="-5.00" y="1.60" width="10.00" height="8.80" rx="0.8" fill="#fff" stroke="#161616" stroke-width="1"/>
<rect x="-3.20" y="0.00" width="5.60" height="1.60" fill="#333" stroke="#161616" stroke-width="0.6"/>
<path d="M5,1.2 L8.4,-0.8 L8.8,2.6 L5,3.8 Z" fill="#222" stroke="#161616" stroke-width="0.6"/>
<rect x="-4.40" y="10.40" width="8.80" height="15.60" fill="#fff" stroke="#161616" stroke-width="1"/>
<line x1="-5.40" y1="13.60" x2="5.40" y2="13.60" fill="none" stroke="#161616" stroke-width="1.1"/>
<line x1="-5.40" y1="15.60" x2="5.40" y2="15.60" fill="none" stroke="#161616" stroke-width="1.1"/>
<line x1="-5.40" y1="18.80" x2="5.40" y2="18.80" fill="none" stroke="#161616" stroke-width="1.1"/>
<line x1="-5.40" y1="20.80" x2="5.40" y2="20.80" fill="none" stroke="#161616" stroke-width="1.1"/>
<line x1="-4.40" y1="24.00" x2="4.40" y2="24.00" fill="none" stroke="#161616" stroke-width="0.8"/>
</g>
<line x1="456.60" y1="572.90" x2="518.80" y2="572.90" fill="none" stroke="#161616" stroke-width="1.05"/>
<line x1="456.60" y1="576.50" x2="518.80" y2="576.50" fill="none" stroke="#161616" stroke-width="1.05"/>
<line x1="456.60" y1="572.90" x2="456.60" y2="645.00" fill="none" stroke="#161616" stroke-width="1.05"/>
<line x1="461.20" y1="576.50" x2="461.20" y2="645.00" fill="none" stroke="#161616" stroke-width="1.05"/>
<line x1="513.80" y1="576.50" x2="513.80" y2="645.00" fill="none" stroke="#161616" stroke-width="1.05"/>
<line x1="518.40" y1="572.90" x2="518.40" y2="645.00" fill="none" stroke="#161616" stroke-width="1.05"/>
<line x1="461.20" y1="589.50" x2="513.80" y2="589.50" fill="none" stroke="#161616" stroke-width="1.05"/>
<line x1="461.20" y1="593.10" x2="513.80" y2="593.10" fill="none" stroke="#161616" stroke-width="1.05"/>
<path d="M484.4,576.5 L484.4,587.8 L493.6,607.6 L501.4,607.6 L511.4,587.8 L511.4,576.5" fill="#fff" stroke="#161616" stroke-width="1"/>
<line x1="484.40" y1="587.80" x2="511.40" y2="587.80" fill="none" stroke="#161616" stroke-width="0.8"/>
<path d="M478.4,572.8 L476.4,560 Q476.2,552 480,548.6 L482,546.6 L486.6,546.6 L486.6,545 L489.6,545 L489.6,546.6 L507.6,546.6 L507.6,545 L516.6,545 L516.6,546.6 Q520.6,549.6 521.4,556 L521.4,566 L519.6,572.8 Z" fill="#fff" stroke="#161616" stroke-width="1.1"/>
<line x1="480.00" y1="550.40" x2="519.60" y2="550.40" fill="none" stroke="#161616" stroke-width="0.8"/>
<path d="M478,558.6 L521.4,558.6" fill="none" stroke="#161616" stroke-width="0.7"/>
<rect x="491.00" y="548.60" width="13.00" height="7.60" rx="0.8" fill="#fff" stroke="#161616" stroke-width="1.2"/>
<rect x="493.00" y="550.40" width="9.00" height="4.00" fill="none" stroke="#161616" stroke-width="0.7"/>
<circle cx="487.40" cy="562.20" r="2.50" fill="#fff" stroke="#161616" stroke-width="1"/>
<circle cx="487.40" cy="562.20" r="1.50" fill="#222" stroke="#161616" stroke-width="0.4"/>
<circle cx="497.40" cy="562.20" r="2.50" fill="#fff" stroke="#161616" stroke-width="1"/>
<circle cx="497.40" cy="562.20" r="1.50" fill="#222" stroke="#161616" stroke-width="0.4"/>
<circle cx="506.80" cy="562.20" r="2.50" fill="#fff" stroke="#161616" stroke-width="1"/>
<circle cx="506.80" cy="562.20" r="1.50" fill="#222" stroke="#161616" stroke-width="0.4"/>
<circle cx="487.40" cy="568.60" r="1.80" fill="#222" stroke="#161616" stroke-width="0.5"/>
<line x1="484.80" y1="557.00" x2="484.80" y2="571.00" fill="none" stroke="#161616" stroke-width="0.7"/>
<line x1="490.00" y1="557.00" x2="490.00" y2="571.00" fill="none" stroke="#161616" stroke-width="0.7"/>
<circle cx="506.80" cy="568.60" r="1.80" fill="#222" stroke="#161616" stroke-width="0.5"/>
<line x1="504.20" y1="557.00" x2="504.20" y2="571.00" fill="none" stroke="#161616" stroke-width="0.7"/>
<line x1="509.40" y1="557.00" x2="509.40" y2="571.00" fill="none" stroke="#161616" stroke-width="0.7"/>
<rect x="492.00" y="566.40" width="11.00" height="6.40" fill="#fff" stroke="#161616" stroke-width="0.9"/>
<line x1="482.60" y1="551.00" x2="482.60" y2="572.80" fill="none" stroke="#161616" stroke-width="0.8"/>
<line x1="512.40" y1="551.00" x2="512.40" y2="572.80" fill="none" stroke="#161616" stroke-width="0.8"/>
<rect x="446.60" y="553.00" width="12.80" height="7.80" rx="1" fill="#222" stroke="#161616" stroke-width="0.9"/>
<line x1="449.00" y1="553.60" x2="449.00" y2="560.20" fill="none" stroke="#bbb" stroke-width="0.4"/>
<line x1="451.00" y1="553.60" x2="451.00" y2="560.20" fill="none" stroke="#bbb" stroke-width="0.4"/>
<line x1="453.00" y1="553.60" x2="453.00" y2="560.20" fill="none" stroke="#bbb" stroke-width="0.4"/>
<line x1="455.00" y1="553.60" x2="455.00" y2="560.20" fill="none" stroke="#bbb" stroke-width="0.4"/>
<line x1="457.00" y1="553.60" x2="457.00" y2="560.20" fill="none" stroke="#bbb" stroke-width="0.4"/>
<rect x="459.40" y="551.60" width="7.00" height="10.00" rx="1.4" fill="#555" stroke="#161616" stroke-width="1"/>
<rect x="460.60" y="553.40" width="4.00" height="6.60" fill="#333" stroke="#161616" stroke-width="0.5"/>
<rect x="466.40" y="553.40" width="8.00" height="7.00" fill="#fff" stroke="#161616" stroke-width="0.9"/>
<rect x="468.40" y="554.60" width="3.60" height="4.60" fill="#333" stroke="#161616" stroke-width="0.5"/>
<rect x="474.40" y="555.40" width="3.60" height="3.20" fill="#fff" stroke="#161616" stroke-width="0.8"/>
<rect x="457.80" y="562.60" width="20.20" height="10.20" fill="#fff" stroke="#161616" stroke-width="1"/>
<circle cx="465.00" cy="566.60" r="2.20" fill="none" stroke="#161616" stroke-width="0.9"/>
<circle cx="474.00" cy="566.60" r="2.20" fill="none" stroke="#161616" stroke-width="0.9"/>
<rect x="495.00" y="607.60" width="6.60" height="1.80" fill="#333" stroke="#161616" stroke-width="0.6"/>
<rect x="494.00" y="609.40" width="8.40" height="3.00" rx="0.8" fill="#333" stroke="#161616" stroke-width="0.6"/>
<rect x="495.40" y="612.40" width="6.00" height="6.60" fill="#fff" stroke="#161616" stroke-width="0.9"/>
<line x1="494.40" y1="615.40" x2="502.40" y2="615.40" fill="none" stroke="#161616" stroke-width="1.1"/>
<rect x="491.20" y="619.00" width="13.80" height="25.60" fill="#fff" stroke="#161616" stroke-width="1"/>
<rect x="493.40" y="620.60" width="9.20" height="22.80" fill="#333" stroke="#161616" stroke-width="0.5"/>
<rect x="495.20" y="622.40" width="5.60" height="5.60" fill="#fff" stroke="#161616" stroke-width="0.4"/>
<rect x="495.20" y="630.40" width="5.60" height="5.60" fill="#fff" stroke="#161616" stroke-width="0.4"/>
<rect x="495.20" y="638.00" width="5.60" height="4.40" fill="#fff" stroke="#161616" stroke-width="0.4"/>
<rect x="484.40" y="618.20" width="6.00" height="13.40" fill="#fff" stroke="#161616" stroke-width="0.9"/>
<rect x="485.60" y="619.60" width="3.60" height="4.40" fill="#333" stroke="#161616" stroke-width="0.4"/>
<line x1="485.60" y1="626.00" x2="489.40" y2="626.00" fill="none" stroke="#161616" stroke-width="0.6"/>
<line x1="485.60" y1="628.00" x2="489.40" y2="628.00" fill="none" stroke="#161616" stroke-width="0.6"/>
<line x1="485.60" y1="630.00" x2="489.40" y2="630.00" fill="none" stroke="#161616" stroke-width="0.6"/>
<line x1="490.40" y1="625.00" x2="491.20" y2="625.00" fill="none" stroke="#161616" stroke-width="0.8"/>
</g>
<g id="d10">
<clipPath id="c10"><path d="M562.40,455.52 H571.91 V476.60 H569.71 V473.09 H562.40 Z M577.08,455.52 H613.60 V477.60 H577.08 Z"/></clipPath>
<text class="n" x="563.40" y="475.60" font-size="25.1" fill="#1a1a1a" clip-path="url(#c10)">10</text>
<line x1="571.00" y1="645.50" x2="683.50" y2="645.50" fill="none" stroke="#161616" stroke-width="1"/>
<line x1="571.10" y1="512.60" x2="605.50" y2="512.60" fill="none" stroke="#3a3a3a" stroke-width="0.8" stroke-dasharray="4.6 0.9"/>
<line x1="571.10" y1="519.93" x2="605.50" y2="519.93" fill="none" stroke="#3a3a3a" stroke-width="0.8" stroke-dasharray="4.6 0.9"/>
<line x1="571.10" y1="527.27" x2="605.50" y2="527.27" fill="none" stroke="#3a3a3a" stroke-width="0.8" stroke-dasharray="4.6 0.9"/>
<line x1="571.10" y1="512.60" x2="571.10" y2="534.60" fill="none" stroke="#3a3a3a" stroke-width="0.8"/>
<line x1="588.80" y1="512.60" x2="588.80" y2="534.60" fill="none" stroke="#3a3a3a" stroke-width="0.8"/>
<line x1="655.60" y1="512.60" x2="677.40" y2="512.60" fill="none" stroke="#3a3a3a" stroke-width="0.8" stroke-dasharray="4.6 0.9"/>
<line x1="655.60" y1="519.93" x2="677.40" y2="519.93" fill="none" stroke="#3a3a3a" stroke-width="0.8" stroke-dasharray="4.6 0.9"/>
<line x1="655.60" y1="527.27" x2="677.40" y2="527.27" fill="none" stroke="#3a3a3a" stroke-width="0.8" stroke-dasharray="4.6 0.9"/>
<line x1="655.60" y1="512.60" x2="655.60" y2="534.60" fill="none" stroke="#3a3a3a" stroke-width="0.8"/>
<line x1="677.40" y1="512.60" x2="677.40" y2="534.60" fill="none" stroke="#3a3a3a" stroke-width="0.8"/>
<line x1="571.10" y1="534.70" x2="677.40" y2="534.70" fill="none" stroke="#161616" stroke-width="1.05"/>
<line x1="571.10" y1="538.60" x2="677.40" y2="538.60" fill="none" stroke="#161616" stroke-width="1.05"/>
<line x1="571.10" y1="534.70" x2="571.10" y2="538.60" fill="none" stroke="#161616" stroke-width="1.05"/>
<line x1="677.40" y1="534.70" x2="677.40" y2="538.60" fill="none" stroke="#161616" stroke-width="1.05"/>
<path d="M572.10,538.60 L588.80,556.60" fill="none" stroke="#161616" stroke-width="1.05"/>
<path d="M575.40,538.60 L588.80,552.60" fill="none" stroke="#161616" stroke-width="1.05"/>
<line x1="588.80" y1="538.60" x2="588.80" y2="645.50" fill="none" stroke="#161616" stroke-width="1.05"/>
<line x1="593.20" y1="538.60" x2="593.20" y2="645.50" fill="none" stroke="#161616" stroke-width="1.05"/>
<line x1="673.00" y1="538.60" x2="673.00" y2="645.50" fill="none" stroke="#161616" stroke-width="1.05"/>
<line x1="677.40" y1="538.60" x2="677.40" y2="645.50" fill="none" stroke="#161616" stroke-width="1.05"/>
<line x1="593.20" y1="569.40" x2="673.00" y2="569.40" fill="none" stroke="#161616" stroke-width="1.05"/>
<line x1="593.20" y1="573.80" x2="673.00" y2="573.80" fill="none" stroke="#161616" stroke-width="1.05"/>
<ellipse cx="587.30" cy="521.43" rx="5.50" ry="2.38" fill="none" stroke="#161616" stroke-width="0.8"/>
<ellipse cx="587.30" cy="525.90" rx="5.50" ry="2.38" fill="none" stroke="#161616" stroke-width="0.8"/>
<ellipse cx="587.30" cy="530.37" rx="5.50" ry="2.38" fill="none" stroke="#161616" stroke-width="0.8"/>
<ellipse cx="598.70" cy="521.43" rx="5.50" ry="2.38" fill="none" stroke="#161616" stroke-width="0.8"/>
<ellipse cx="598.70" cy="525.90" rx="5.50" ry="2.38" fill="none" stroke="#161616" stroke-width="0.8"/>
<ellipse cx="598.70" cy="530.37" rx="5.50" ry="2.38" fill="none" stroke="#161616" stroke-width="0.8"/>
<rect x="579.60" y="532.60" width="27.40" height="1.90" fill="#555" stroke="#161616" stroke-width="0.6"/>
<g transform="translate(616.40,534.20) scale(0.991,0.991)">
<path d="M-4.6,-18.4 L-7.4,-9 L-9.2,-4 L-7,-2.6 L-3,-5.6 L-0.6,-9.6 L1.6,-15.4 Z" fill="#fff" stroke="#1c1c1c" stroke-width="1.11"/>
<path d="M-9.6,-3.8 L-7,-3.2 L-6.4,-0.4 L-9.8,-0.6 Z" fill="#1c1c1c" stroke="#1c1c1c" stroke-width="1.11"/>
<path d="M1.2,-15.6 L3.2,-8.4 L3.4,-3.4 L6.4,-2.8 L6.6,-8 L5.6,-13 L3.6,-17.4 Z" fill="#fff" stroke="#1c1c1c" stroke-width="1.11"/>
<path d="M3.2,-3.6 L6.4,-3 L8.8,-1.4 L8.4,-0.4 L3.6,-1 Z" fill="#1c1c1c" stroke="#1c1c1c" stroke-width="1.11"/>
<path d="M2.4,-28.6 Q-1,-27.6 -2.8,-24.4 L-4.8,-18 L1.6,-15.2 L3.8,-17.2 L5.6,-21 L6.2,-27.4 Z" fill="#fff" stroke="#1c1c1c" stroke-width="1.11"/>
<path d="M3.6,-27 L4.6,-23 L8.8,-17.6 L11.2,-17.8 L11.8,-19.8 L10.2,-20.8 L6.6,-26.6" fill="#fff" stroke="#1c1c1c" stroke-width="1.11"/>
<path d="M-1.6,-23.4 L4.6,-20.2 L8.6,-17.8" fill="none" stroke="#1c1c1c" stroke-width="1.11"/>
<path d="M3,-30.6 L3.2,-28.4 Q5,-27.4 6.6,-28.2 L7.2,-30.6 Z" fill="#fff" stroke="#1c1c1c" stroke-width="1.11"/>
<path d="M2.6,-30.6 L3.2,-33.3 L7.6,-32.6 L8,-30.2 Z" fill="#444" stroke="#1c1c1c" stroke-width="1.11"/>
</g>
<g transform="translate(640.50,544.30)">
<path d="M-17.7,-6 L-17.7,25.2 M17.6,-12 L17.6,25.2" fill="none" stroke="#161616" stroke-width="1"/>
<rect x="-5.10" y="17.20" width="10.20" height="6.00" fill="#fff" stroke="#161616" stroke-width="1"/>
<line x1="-6.40" y1="23.30" x2="6.40" y2="23.30" fill="none" stroke="#161616" stroke-width="1.2"/>
<circle cx="0.00" cy="0.00" r="17.15" fill="#fff" stroke="#161616" stroke-width="1.2"/>
<path d="M-14.6,-7.6 A16,16 0 0 0 -9.4,13" fill="none" stroke="#161616" stroke-width="0.7"/>
<line x1="-15.00" y1="-17.60" x2="16.60" y2="-17.60" fill="none" stroke="#161616" stroke-width="1.1"/>
<path d="M-15,-17.6 L-17.7,-14.6 L-17.7,-6 M16.6,-17.6 L17.6,-15.6 L17.6,-12" fill="none" stroke="#161616" stroke-width="1"/>
<path d="M-13.4,-15.6 L-12.4,-16.8 M13.6,-15.6 L12.6,-16.8" fill="none" stroke="#161616" stroke-width="0.8"/>
<path d="M-8.6,-14.8 L-8.6,25.2 M8.6,-14.8 L8.6,25.2" fill="none" stroke="#161616" stroke-width="1"/>
<path d="M-8.6,13.4 Q0,16.6 8.6,13.4" fill="none" stroke="#161616" stroke-width="0.9"/>
<rect x="-5.10" y="17.20" width="10.20" height="6.00" fill="#fff" stroke="#161616" stroke-width="1"/>
<rect x="-7.00" y="-5.20" width="15.20" height="15.00" fill="#fff" stroke="#161616" stroke-width="1.2"/>
<rect x="-6.00" y="-4.20" width="13.20" height="7.80" fill="#222" stroke="#161616" stroke-width="0.5"/>
<circle cx="0.60" cy="-0.40" r="2.50" fill="#fff" stroke="#161616" stroke-width="0.4"/>
<rect x="-5.30" y="-3.50" width="1.40" height="1.40" fill="#fff" stroke="#161616" stroke-width="0.2"/>
<rect x="4.90" y="-3.50" width="1.40" height="1.40" fill="#fff" stroke="#161616" stroke-width="0.2"/>
<rect x="-5.30" y="1.50" width="1.40" height="1.40" fill="#fff" stroke="#161616" stroke-width="0.2"/>
<rect x="4.90" y="1.50" width="1.40" height="1.40" fill="#fff" stroke="#161616" stroke-width="0.2"/>
<rect x="-6.00" y="4.80" width="13.20" height="3.80" fill="#333" stroke="#161616" stroke-width="0.5"/>
<path d="M-5,6.8 L-3,5.6 L-1,7.6 L1,5.8 L3,7.6 L5,5.8 L6.4,7" fill="none" stroke="#fff" stroke-width="0.6"/>
<rect x="11.10" y="-3.60" width="6.50" height="10.00" rx="0.8" fill="#222" stroke="#161616" stroke-width="0.8"/>
<rect x="12.40" y="-2.20" width="1.80" height="2.40" fill="#fff" stroke="#161616" stroke-width="0.3"/>
<rect x="12.40" y="2.40" width="1.80" height="2.60" fill="#fff" stroke="#161616" stroke-width="0.3"/>
<rect x="15.00" y="-1.00" width="1.40" height="4.60" fill="#fff" stroke="#161616" stroke-width="0.3"/>
<rect x="8.60" y="-1.40" width="2.50" height="5.60" fill="#fff" stroke="#161616" stroke-width="0.9"/>
<path d="M17.6,-3.7 L24,-3.7 Q26.2,-3.7 26.2,-1.4 L26.2,4.6 Q26.2,6.9 24,6.9 L17.6,6.9 Z" fill="#fff" stroke="#161616" stroke-width="1.1"/>
<rect x="18.60" y="-2.20" width="5.00" height="7.60" rx="1" fill="#fff" stroke="#161616" stroke-width="0.9"/>
<line x1="18.60" y1="0.20" x2="23.60" y2="0.20" fill="none" stroke="#161616" stroke-width="0.8"/>
<line x1="18.60" y1="3.00" x2="23.60" y2="3.00" fill="none" stroke="#161616" stroke-width="0.8"/>
<path d="M-6.3,-22.6 L-5.4,-25.6 L-1.6,-34.6 Q-1,-35.7 0.2,-35.7 L1,-35.7 L1,-37.6 L4.6,-37.6 L4.6,-35.7 L5.6,-35.7 Q6.4,-35.7 6.4,-34.6 L6.4,-22.6 Z" fill="#fff" stroke="#161616" stroke-width="1.1"/>
<line x1="-5.60" y1="-24.40" x2="6.40" y2="-24.40" fill="none" stroke="#161616" stroke-width="0.8"/>
<path d="M-10.8,-22.5 L6.9,-22.5 L6.9,-19 L-5,-19 Q-8.6,-19.6 -10.8,-22.5 Z" fill="#fff" stroke="#161616" stroke-width="1"/>
<line x1="-8.60" y1="-20.60" x2="6.90" y2="-20.60" fill="none" stroke="#161616" stroke-width="0.7"/>
</g>
<path d="M615.26,562.38 L628.86,554.08 L626.94,550.92 L613.34,559.22 Z" fill="#fff" stroke="#161616" stroke-width="0.9"/>
<path d="M616.90,561.38 L625.87,555.91 L623.94,552.75 L614.97,558.22 Z" fill="#2a2a2a" stroke="#161616" stroke-width="0.6"/>
<line x1="617.72" y1="560.29" x2="616.32" y2="557.99" fill="none" stroke="#aaa" stroke-width="0.35"/>
<line x1="619.42" y1="559.25" x2="618.02" y2="556.95" fill="none" stroke="#aaa" stroke-width="0.35"/>
<line x1="621.12" y1="558.22" x2="619.72" y2="555.91" fill="none" stroke="#aaa" stroke-width="0.35"/>
<line x1="622.82" y1="557.18" x2="621.42" y2="554.88" fill="none" stroke="#aaa" stroke-width="0.35"/>
<line x1="624.52" y1="556.14" x2="623.12" y2="553.84" fill="none" stroke="#aaa" stroke-width="0.35"/>
<path d="M626.51,556.34 L627.87,555.51 L625.21,551.15 L623.85,551.98 Z" fill="#2a2a2a" stroke="#161616" stroke-width="0.5"/>
<path d="M615.20,562.89 L616.15,562.31 L613.81,558.46 L612.86,559.05 Z" fill="#fff" stroke="#161616" stroke-width="0.9"/>
<path d="M624.6,570.6 L624.6,582.5 L637,606.4 L642.4,606.4 L654.9,582.5 L654.9,570.6 Z" fill="#fff" stroke="#161616" stroke-width="1"/>
<line x1="624.60" y1="582.50" x2="654.90" y2="582.50" fill="none" stroke="#161616" stroke-width="0.9"/>
<rect x="627.20" y="573.20" width="5.20" height="6.80" fill="#fff" stroke="#161616" stroke-width="1"/>
<rect x="628.60" y="574.60" width="2.40" height="4.20" fill="none" stroke="#161616" stroke-width="0.7"/>
<rect x="647.60" y="573.20" width="5.20" height="6.80" fill="#fff" stroke="#161616" stroke-width="1"/>
<rect x="649.00" y="574.60" width="2.40" height="4.20" fill="none" stroke="#161616" stroke-width="0.7"/>
<rect x="636.80" y="606.40" width="5.80" height="1.60" fill="#fff" stroke="#161616" stroke-width="0.8"/>
<line x1="593.20" y1="569.40" x2="673.00" y2="569.40" fill="none" stroke="#161616" stroke-width="1.05"/>
<line x1="593.20" y1="573.80" x2="624.60" y2="573.80" fill="none" stroke="#161616" stroke-width="1.05"/>
<line x1="654.90" y1="573.80" x2="673.00" y2="573.80" fill="none" stroke="#161616" stroke-width="1.05"/>
<g transform="translate(639.80,609.40) scale(-1.000,1.000)">
<rect x="-3.40" y="0.00" width="7.00" height="1.40" fill="#333" stroke="#161616" stroke-width="0.6"/>
<rect x="-4.80" y="1.20" width="9.80" height="2.20" rx="1" fill="#333" stroke="#161616" stroke-width="0.7"/>
<circle cx="0.20" cy="2.30" r="0.90" fill="#ccc" stroke="#161616" stroke-width="0.3"/>
<rect x="-3.60" y="3.40" width="7.20" height="1.60" fill="#fff" stroke="#161616" stroke-width="0.9"/>
<rect x="-3.80" y="5.00" width="7.40" height="14.60" fill="#fff" stroke="#161616" stroke-width="1.1"/>
<rect x="-2.20" y="6.40" width="4.20" height="5.00" rx="0.8" fill="#fff" stroke="#161616" stroke-width="0.9"/>
<rect x="-2.20" y="12.80" width="4.20" height="5.40" fill="#fff" stroke="#161616" stroke-width="0.9"/>
<line x1="-0.20" y1="12.80" x2="-0.20" y2="18.20" fill="none" stroke="#161616" stroke-width="0.7"/>
<line x1="-3.80" y1="12.00" x2="3.60" y2="12.00" fill="none" stroke="#161616" stroke-width="1.2"/>
<line x1="-4.60" y1="19.80" x2="4.40" y2="19.80" fill="none" stroke="#161616" stroke-width="1.4"/>
<circle cx="5.80" cy="7.00" r="0.90" fill="#222" stroke="#161616" stroke-width="0.5"/>
<circle cx="6.40" cy="10.60" r="1.20" fill="#fff" stroke="#161616" stroke-width="0.9"/>
<rect x="5.40" y="11.60" width="1.80" height="24.60" fill="#333" stroke="#161616" stroke-width="0.5"/>
<rect x="-7.00" y="6.40" width="1.40" height="11.60" fill="#333" stroke="#161616" stroke-width="0.5"/>
<rect x="-8.40" y="12.00" width="4.00" height="1.20" fill="#333" stroke="#161616" stroke-width="0.4"/>
<rect x="-16.60" y="8.00" width="7.60" height="11.40" rx="2" fill="#fff" stroke="#161616" stroke-width="1.1"/>
<rect x="-13.60" y="5.80" width="2.80" height="2.20" rx="0.6" fill="#fff" stroke="#161616" stroke-width="0.9"/>
<line x1="-11.00" y1="9.40" x2="-11.00" y2="18.00" fill="none" stroke="#161616" stroke-width="0.8"/>
<line x1="-12.60" y1="9.40" x2="-12.60" y2="18.00" fill="none" stroke="#161616" stroke-width="0.6"/>
<rect x="-10.40" y="14.00" width="2.00" height="4.40" fill="#333" stroke="#161616" stroke-width="0.4"/>
<rect x="-14.20" y="17.60" width="10.40" height="3.30" fill="#333" stroke="#161616" stroke-width="0.6"/>
<line x1="-13.40" y1="19.20" x2="-5.00" y2="19.20" fill="none" stroke="#ccc" stroke-width="0.5"/>
<rect x="-10.00" y="20.90" width="1.60" height="15.30" fill="#333" stroke="#161616" stroke-width="0.4"/>
<rect x="-9.60" y="33.60" width="16.80" height="2.60" fill="#fff" stroke="#161616" stroke-width="1"/>
<line x1="-10.00" y1="33.40" x2="7.40" y2="33.40" fill="none" stroke="#161616" stroke-width="1.3"/>
<path d="M-10,35.8 L-16,35.8 Q-16.8,34 -14.6,33.4 L-10,33.4" fill="none" stroke="#161616" stroke-width="0.9"/>
<path d="M-1.2,30.4 L-0.6,32 L0.2,31.6" fill="none" stroke="#161616" stroke-width="0.6"/>
</g>
</g>
</svg>
</body></html>
